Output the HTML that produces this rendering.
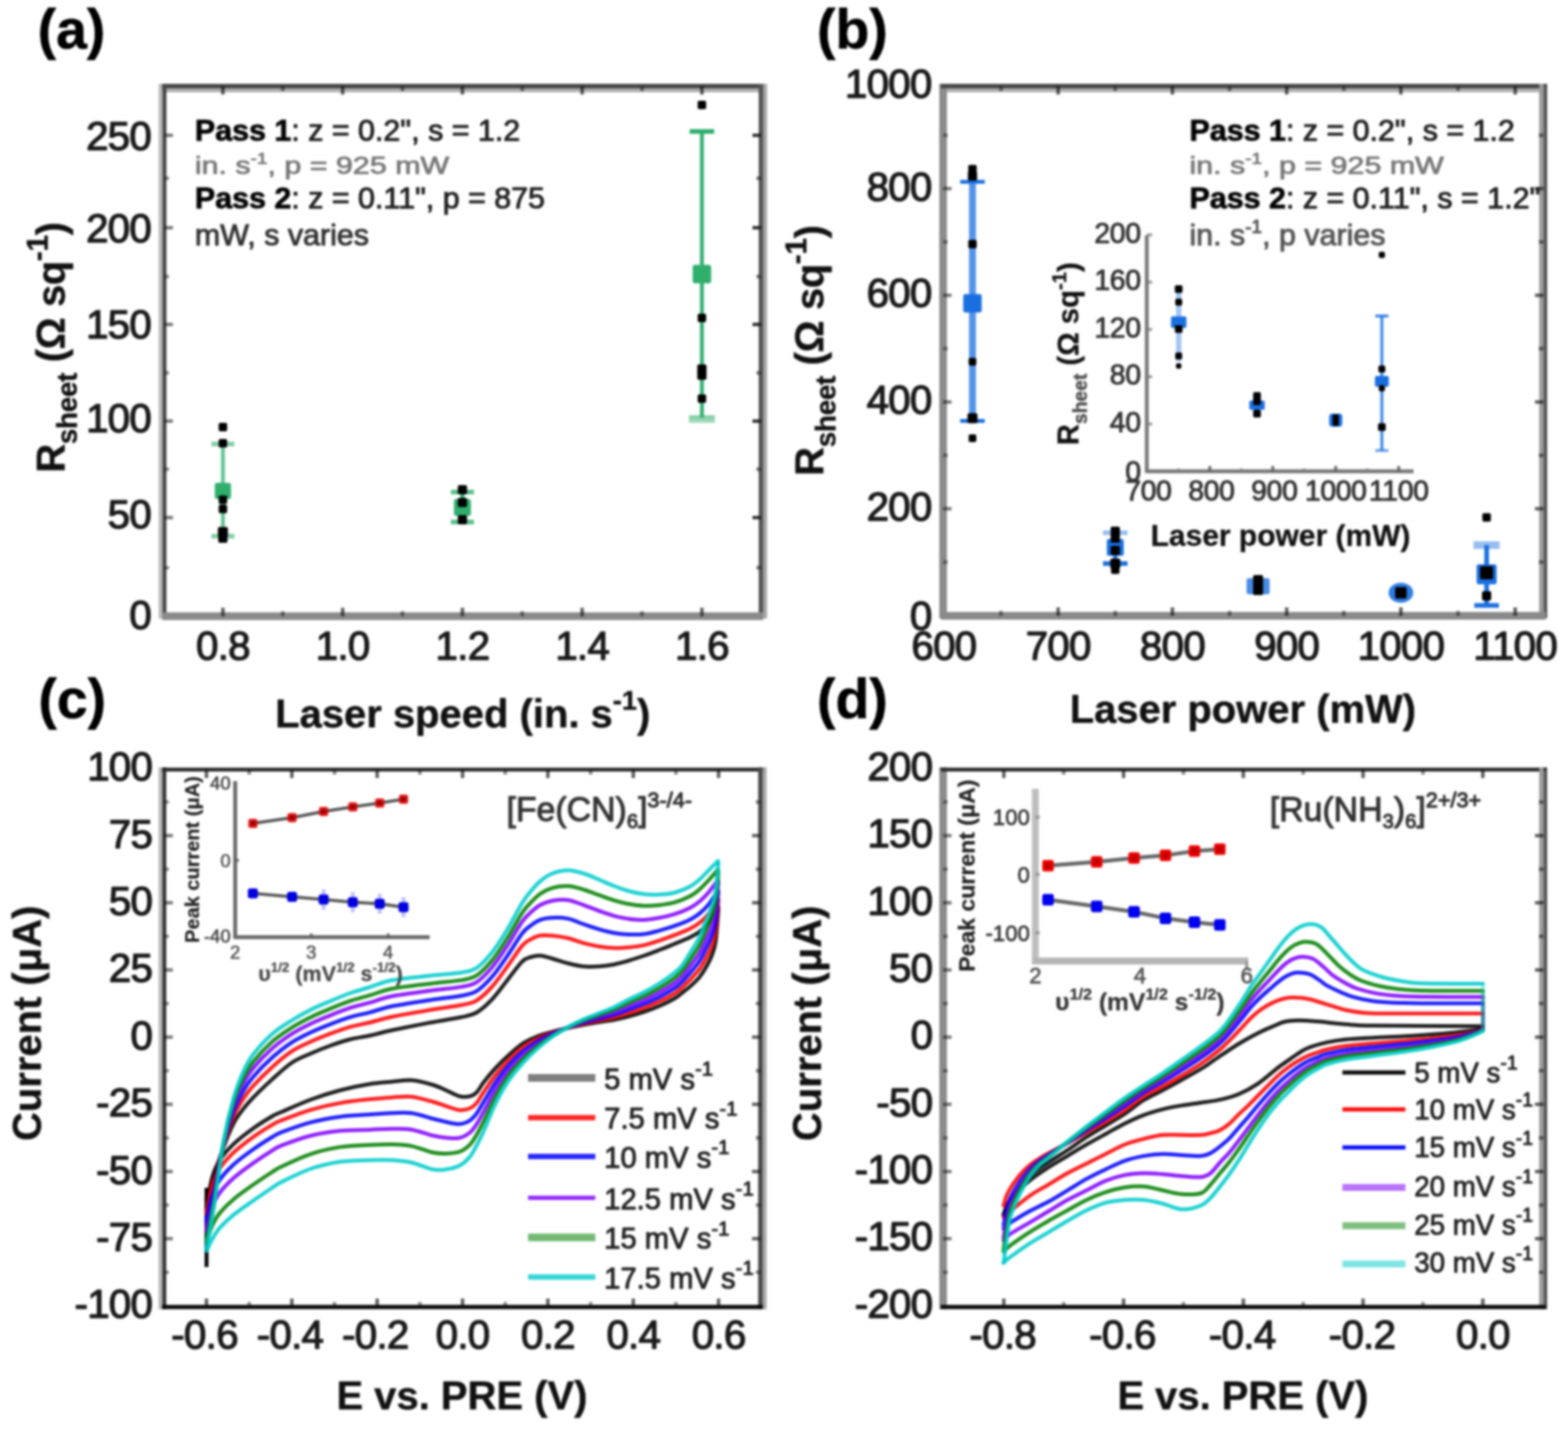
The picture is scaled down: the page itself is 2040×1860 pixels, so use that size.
<!DOCTYPE html>
<html lang="en">
<head>
<meta charset="utf-8">
<title>Figure: sheet resistance and cyclic voltammetry</title>
<style>
html,body{margin:0;padding:0;background:#fff;}
body{width:2040px;height:1860px;overflow:hidden;}
svg{display:block;font-family:'Liberation Sans', Arial, sans-serif;}
#fig{filter:blur(1.6px);}
</style>
</head>
<body>
<svg width="2040" height="1860" viewBox="0 0 2040 1860">
<rect width="2040" height="1860" fill="#fff"/>
<g id="fig">
<text x="49.0" y="63.0" font-size="72" text-anchor="start" fill="#000" font-weight="bold" stroke="#000" stroke-width="0.72" stroke-linejoin="round">(a)</text>
<line x1="290.0" y1="577.5" x2="290.0" y2="697.5" stroke="#2fae6c" stroke-width="5" stroke-linecap="butt" opacity="0.75"/>
<line x1="275.0" y1="577.5" x2="305.0" y2="577.5" stroke="#2fae6c" stroke-width="6" stroke-linecap="butt" opacity="0.6"/>
<line x1="275.0" y1="697.5" x2="305.0" y2="697.5" stroke="#2fae6c" stroke-width="6" stroke-linecap="butt" opacity="0.6"/>
<rect x="279.5" y="628.0" width="21.0" height="21.0" fill="#2fae6c" rx="3"/>
<rect x="284.5" y="550.0" width="11.0" height="11.0" fill="#000" rx="2"/>
<rect x="284.5" y="571.0" width="11.0" height="11.0" fill="#000" rx="2"/>
<rect x="284.5" y="644.5" width="11.0" height="11.0" fill="#000" rx="2"/>
<rect x="284.5" y="656.5" width="11.0" height="11.0" fill="#000" rx="2"/>
<rect x="283.5" y="685.5" width="13.0" height="13.0" fill="#000" rx="2"/>
<rect x="284.0" y="694.0" width="12.0" height="12.0" fill="#000" rx="2"/>
<line x1="601.6" y1="640.0" x2="601.6" y2="679.0" stroke="#2fae6c" stroke-width="5" stroke-linecap="butt" opacity="1"/>
<line x1="586.6" y1="640.0" x2="616.6" y2="640.0" stroke="#2fae6c" stroke-width="6" stroke-linecap="butt" opacity="0.8"/>
<line x1="586.6" y1="679.0" x2="616.6" y2="679.0" stroke="#2fae6c" stroke-width="6" stroke-linecap="butt" opacity="0.8"/>
<rect x="590.6" y="649.0" width="22.0" height="22.0" fill="#2fae6c" rx="3"/>
<rect x="595.6" y="631.0" width="12.0" height="12.0" fill="#000" rx="2"/>
<rect x="595.6" y="647.5" width="12.0" height="12.0" fill="#000" rx="2"/>
<rect x="595.6" y="670.0" width="12.0" height="12.0" fill="#000" rx="2"/>
<line x1="913.2" y1="171.0" x2="913.2" y2="543.0" stroke="#2fae6c" stroke-width="5" stroke-linecap="butt" opacity="1"/>
<line x1="897.2" y1="171.0" x2="929.2" y2="171.0" stroke="#2fae6c" stroke-width="6" stroke-linecap="butt" opacity="1"/>
<line x1="897.2" y1="543.0" x2="929.2" y2="543.0" stroke="#2fae6c" stroke-width="6" stroke-linecap="butt" opacity="0.2"/>
<line x1="896.2" y1="545.0" x2="930.2" y2="545.0" stroke="#2fae6c" stroke-width="10" stroke-linecap="butt" opacity="0.45"/>
<rect x="901.2" y="344.5" width="24.0" height="24.0" fill="#2fae6c" rx="3"/>
<rect x="907.7" y="131.0" width="11.0" height="11.0" fill="#000" rx="2"/>
<rect x="907.7" y="408.0" width="11.0" height="11.0" fill="#000" rx="2"/>
<rect x="907.2" y="474.0" width="12.0" height="12.0" fill="#000" rx="2"/>
<rect x="907.2" y="482.0" width="12.0" height="12.0" fill="#000" rx="2"/>
<rect x="907.7" y="513.0" width="11.0" height="11.0" fill="#000" rx="2"/>
<line x1="209.0" y1="109.0" x2="209.0" y2="804.5" stroke="#b8b8b8" stroke-width="5" stroke-linecap="butt"/>
<line x1="211.0" y1="117.5" x2="993.0" y2="117.5" stroke="#b0b0b0" stroke-width="5" stroke-linecap="butt"/>
<line x1="995.5" y1="109.0" x2="995.5" y2="804.5" stroke="#a8a8a8" stroke-width="5" stroke-linecap="butt"/>
<line x1="214.0" y1="109.0" x2="214.0" y2="804.5" stroke="#444" stroke-width="5" stroke-linecap="butt"/>
<line x1="211.0" y1="112.0" x2="993.0" y2="112.0" stroke="#4a4a4a" stroke-width="6" stroke-linecap="butt"/>
<line x1="990.0" y1="109.0" x2="990.0" y2="804.5" stroke="#585858" stroke-width="6" stroke-linecap="butt"/>
<line x1="211.0" y1="801.5" x2="993.0" y2="801.5" stroke="#8a8a8a" stroke-width="10" stroke-linecap="butt"/>
<line x1="290.0" y1="801.5" x2="290.0" y2="790.5" stroke="#111" stroke-width="4.5" stroke-linecap="butt" opacity="0.68"/>
<line x1="290.0" y1="112.0" x2="290.0" y2="123.0" stroke="#111" stroke-width="4.5" stroke-linecap="butt" opacity="0.68"/>
<line x1="445.8" y1="801.5" x2="445.8" y2="790.5" stroke="#111" stroke-width="4.5" stroke-linecap="butt" opacity="0.68"/>
<line x1="445.8" y1="112.0" x2="445.8" y2="123.0" stroke="#111" stroke-width="4.5" stroke-linecap="butt" opacity="0.68"/>
<line x1="601.6" y1="801.5" x2="601.6" y2="790.5" stroke="#111" stroke-width="4.5" stroke-linecap="butt" opacity="0.68"/>
<line x1="601.6" y1="112.0" x2="601.6" y2="123.0" stroke="#111" stroke-width="4.5" stroke-linecap="butt" opacity="0.68"/>
<line x1="757.4" y1="801.5" x2="757.4" y2="790.5" stroke="#111" stroke-width="4.5" stroke-linecap="butt" opacity="0.68"/>
<line x1="757.4" y1="112.0" x2="757.4" y2="123.0" stroke="#111" stroke-width="4.5" stroke-linecap="butt" opacity="0.68"/>
<line x1="913.2" y1="801.5" x2="913.2" y2="790.5" stroke="#111" stroke-width="4.5" stroke-linecap="butt" opacity="0.68"/>
<line x1="913.2" y1="112.0" x2="913.2" y2="123.0" stroke="#111" stroke-width="4.5" stroke-linecap="butt" opacity="0.68"/>
<line x1="367.9" y1="801.5" x2="367.9" y2="795.0" stroke="#111" stroke-width="4.5" stroke-linecap="butt" opacity="0.5"/>
<line x1="367.9" y1="112.0" x2="367.9" y2="118.5" stroke="#111" stroke-width="4.5" stroke-linecap="butt" opacity="0.5"/>
<line x1="523.7" y1="801.5" x2="523.7" y2="795.0" stroke="#111" stroke-width="4.5" stroke-linecap="butt" opacity="0.5"/>
<line x1="523.7" y1="112.0" x2="523.7" y2="118.5" stroke="#111" stroke-width="4.5" stroke-linecap="butt" opacity="0.5"/>
<line x1="679.5" y1="801.5" x2="679.5" y2="795.0" stroke="#111" stroke-width="4.5" stroke-linecap="butt" opacity="0.5"/>
<line x1="679.5" y1="112.0" x2="679.5" y2="118.5" stroke="#111" stroke-width="4.5" stroke-linecap="butt" opacity="0.5"/>
<line x1="835.3" y1="801.5" x2="835.3" y2="795.0" stroke="#111" stroke-width="4.5" stroke-linecap="butt" opacity="0.5"/>
<line x1="835.3" y1="112.0" x2="835.3" y2="118.5" stroke="#111" stroke-width="4.5" stroke-linecap="butt" opacity="0.5"/>
<line x1="214.0" y1="673.2" x2="225.0" y2="673.2" stroke="#111" stroke-width="4.5" stroke-linecap="butt" opacity="0.55"/>
<line x1="990.0" y1="673.2" x2="979.0" y2="673.2" stroke="#111" stroke-width="4.5" stroke-linecap="butt" opacity="0.85"/>
<line x1="214.0" y1="547.7" x2="225.0" y2="547.7" stroke="#111" stroke-width="4.5" stroke-linecap="butt" opacity="0.55"/>
<line x1="990.0" y1="547.7" x2="979.0" y2="547.7" stroke="#111" stroke-width="4.5" stroke-linecap="butt" opacity="0.85"/>
<line x1="214.0" y1="422.0" x2="225.0" y2="422.0" stroke="#111" stroke-width="4.5" stroke-linecap="butt" opacity="0.55"/>
<line x1="990.0" y1="422.0" x2="979.0" y2="422.0" stroke="#111" stroke-width="4.5" stroke-linecap="butt" opacity="0.85"/>
<line x1="214.0" y1="296.2" x2="225.0" y2="296.2" stroke="#111" stroke-width="4.5" stroke-linecap="butt" opacity="0.55"/>
<line x1="990.0" y1="296.2" x2="979.0" y2="296.2" stroke="#111" stroke-width="4.5" stroke-linecap="butt" opacity="0.85"/>
<line x1="214.0" y1="176.0" x2="225.0" y2="176.0" stroke="#111" stroke-width="4.5" stroke-linecap="butt" opacity="0.55"/>
<line x1="990.0" y1="176.0" x2="979.0" y2="176.0" stroke="#111" stroke-width="4.5" stroke-linecap="butt" opacity="0.85"/>
<line x1="214.0" y1="738.4" x2="220.0" y2="738.4" stroke="#111" stroke-width="4.5" stroke-linecap="butt" opacity="0.45"/>
<line x1="990.0" y1="738.4" x2="984.0" y2="738.4" stroke="#111" stroke-width="4.5" stroke-linecap="butt" opacity="0.54"/>
<line x1="214.0" y1="610.3" x2="220.0" y2="610.3" stroke="#111" stroke-width="4.5" stroke-linecap="butt" opacity="0.45"/>
<line x1="990.0" y1="610.3" x2="984.0" y2="610.3" stroke="#111" stroke-width="4.5" stroke-linecap="butt" opacity="0.54"/>
<line x1="214.0" y1="485.0" x2="220.0" y2="485.0" stroke="#111" stroke-width="4.5" stroke-linecap="butt" opacity="0.45"/>
<line x1="990.0" y1="485.0" x2="984.0" y2="485.0" stroke="#111" stroke-width="4.5" stroke-linecap="butt" opacity="0.54"/>
<line x1="214.0" y1="359.6" x2="220.0" y2="359.6" stroke="#111" stroke-width="4.5" stroke-linecap="butt" opacity="0.45"/>
<line x1="990.0" y1="359.6" x2="984.0" y2="359.6" stroke="#111" stroke-width="4.5" stroke-linecap="butt" opacity="0.54"/>
<line x1="214.0" y1="231.8" x2="220.0" y2="231.8" stroke="#111" stroke-width="4.5" stroke-linecap="butt" opacity="0.45"/>
<line x1="990.0" y1="231.8" x2="984.0" y2="231.8" stroke="#111" stroke-width="4.5" stroke-linecap="butt" opacity="0.54"/>
<text x="290.0" y="858.0" font-size="52.5" text-anchor="middle" fill="#1a1a1a" letter-spacing="-1" stroke="#1a1a1a" stroke-width="1.575" stroke-linejoin="round">0.8</text>
<text x="445.8" y="858.0" font-size="52.5" text-anchor="middle" fill="#1a1a1a" letter-spacing="-1" stroke="#1a1a1a" stroke-width="1.575" stroke-linejoin="round">1.0</text>
<text x="601.6" y="858.0" font-size="52.5" text-anchor="middle" fill="#1a1a1a" letter-spacing="-1" stroke="#1a1a1a" stroke-width="1.575" stroke-linejoin="round">1.2</text>
<text x="757.4" y="858.0" font-size="52.5" text-anchor="middle" fill="#1a1a1a" letter-spacing="-1" stroke="#1a1a1a" stroke-width="1.575" stroke-linejoin="round">1.4</text>
<text x="913.2" y="858.0" font-size="52.5" text-anchor="middle" fill="#1a1a1a" letter-spacing="-1" stroke="#1a1a1a" stroke-width="1.575" stroke-linejoin="round">1.6</text>
<text x="196.5" y="818.3" font-size="52.5" text-anchor="end" fill="#1a1a1a" letter-spacing="-1" stroke="#1a1a1a" stroke-width="1.575" stroke-linejoin="round">0</text>
<text x="196.5" y="687.3" font-size="52.5" text-anchor="end" fill="#1a1a1a" letter-spacing="-1" stroke="#1a1a1a" stroke-width="1.575" stroke-linejoin="round">50</text>
<text x="196.5" y="561.8" font-size="52.5" text-anchor="end" fill="#1a1a1a" letter-spacing="-1" stroke="#1a1a1a" stroke-width="1.575" stroke-linejoin="round">100</text>
<text x="196.5" y="439.8" font-size="52.5" text-anchor="end" fill="#1a1a1a" letter-spacing="-1" stroke="#1a1a1a" stroke-width="1.575" stroke-linejoin="round">150</text>
<text x="196.5" y="314.6" font-size="52.5" text-anchor="end" fill="#1a1a1a" letter-spacing="-1" stroke="#1a1a1a" stroke-width="1.575" stroke-linejoin="round">200</text>
<text x="196.5" y="194.8" font-size="52.5" text-anchor="end" fill="#1a1a1a" letter-spacing="-1" stroke="#1a1a1a" stroke-width="1.575" stroke-linejoin="round">250</text>
<text x="602.0" y="946.0" font-size="52" text-anchor="middle" fill="#111" font-weight="bold" stroke="#111" stroke-width="0.52" stroke-linejoin="round">Laser speed (in. s<tspan dy="-22.9" font-size="35.4">-1</tspan><tspan dy="22.9" font-size="52">)</tspan></text>
<text x="84.0" y="452.0" font-size="52" text-anchor="middle" fill="#111" font-weight="bold" transform="rotate(-90 84.0 452.0)" letter-spacing="-0.5" stroke="#111" stroke-width="0.52" stroke-linejoin="round">R<tspan dy="15.6" font-size="36.4">sheet</tspan><tspan dy="-15.6" font-size="52"> (Ω sq</tspan><tspan dy="-21.8" font-size="39.0">-1</tspan><tspan dy="21.8" font-size="52">)</tspan></text>
<text x="253.5" y="183.0" font-size="39.6" text-anchor="start" fill="#222" stroke="#222" stroke-width="1.1880000000000002" stroke-linejoin="round"><tspan font-weight="bold" fill="#000">Pass 1</tspan>: z = 0.2", s = 1.2</text>
<text x="253.5" y="226.0" font-size="39.6" text-anchor="start" fill="#777" transform="translate(0 226.0) scale(1 0.8) translate(0 -226.0)" stroke="#777" stroke-width="1.1880000000000002" stroke-linejoin="round">in. s<tspan dy="-15.8" font-size="24.6">-1</tspan><tspan dy="15.8" font-size="39.6">, p = 925 mW</tspan></text>
<text x="253.5" y="270.5" font-size="39.6" text-anchor="start" fill="#222" stroke="#222" stroke-width="1.1880000000000002" stroke-linejoin="round"><tspan font-weight="bold" fill="#000">Pass 2</tspan>: z = 0.11", p = 875</text>
<text x="253.5" y="319.0" font-size="39.6" text-anchor="start" fill="#333" stroke="#333" stroke-width="1.1880000000000002" stroke-linejoin="round">mW, s varies</text>
<text x="1063.0" y="63.0" font-size="72" text-anchor="start" fill="#000" font-weight="bold" stroke="#000" stroke-width="0.72" stroke-linejoin="round">(b)</text>
<line x1="1265.2" y1="236.5" x2="1265.2" y2="547.5" stroke="#1a6fe0" stroke-width="9" stroke-linecap="butt" opacity="0.75"/>
<line x1="1249.2" y1="236.5" x2="1281.2" y2="236.5" stroke="#1a6fe0" stroke-width="5" stroke-linecap="butt" opacity="1"/>
<line x1="1249.2" y1="547.5" x2="1281.2" y2="547.5" stroke="#1a6fe0" stroke-width="5" stroke-linecap="butt" opacity="1"/>
<rect x="1253.2" y="382.5" width="24.0" height="24.0" fill="#1a6fe0" rx="3"/>
<rect x="1259.7" y="214.5" width="11.0" height="11.0" fill="#000" rx="2"/>
<rect x="1259.2" y="223.0" width="12.0" height="12.0" fill="#000" rx="2"/>
<rect x="1259.7" y="312.0" width="11.0" height="11.0" fill="#000" rx="2"/>
<rect x="1260.2" y="465.5" width="10.0" height="10.0" fill="#000" rx="2"/>
<rect x="1258.7" y="537.5" width="13.0" height="13.0" fill="#000" rx="2"/>
<rect x="1260.2" y="565.0" width="10.0" height="10.0" fill="#000" rx="2"/>
<line x1="1451.0" y1="693.0" x2="1451.0" y2="733.0" stroke="#1a6fe0" stroke-width="5" stroke-linecap="butt" opacity="1"/>
<line x1="1435.0" y1="693.0" x2="1467.0" y2="693.0" stroke="#1a6fe0" stroke-width="6" stroke-linecap="butt" opacity="0.45"/>
<line x1="1435.0" y1="733.0" x2="1467.0" y2="733.0" stroke="#1a6fe0" stroke-width="6" stroke-linecap="butt" opacity="1"/>
<rect x="1440.0" y="701.0" width="22.0" height="22.0" fill="#1a6fe0" rx="3"/>
<rect x="1445.0" y="685.0" width="12.0" height="12.0" fill="#000" rx="2"/>
<rect x="1445.0" y="694.0" width="12.0" height="12.0" fill="#000" rx="2"/>
<rect x="1445.0" y="710.0" width="12.0" height="12.0" fill="#000" rx="2"/>
<rect x="1444.5" y="726.5" width="13.0" height="13.0" fill="#000" rx="2"/>
<rect x="1445.5" y="735.5" width="11.0" height="11.0" fill="#000" rx="2"/>
<rect x="1621.8" y="752.0" width="30.0" height="21.0" fill="#1a6fe0" opacity="0.8" rx="3"/>
<rect x="1630.3" y="748.0" width="13.0" height="26.0" fill="#000" rx="2"/>
<ellipse cx="1822.6" cy="771" rx="16" ry="13" fill="#1a6fe0" opacity="0.9"/>
<rect x="1815.1" y="763.5" width="15.0" height="15.0" fill="#000" rx="2"/>
<line x1="1934.1" y1="709.0" x2="1934.1" y2="787.5" stroke="#1a6fe0" stroke-width="6" stroke-linecap="butt" opacity="1"/>
<line x1="1918.1" y1="709.0" x2="1950.1" y2="709.0" stroke="#1a6fe0" stroke-width="6" stroke-linecap="butt" opacity="0.0"/>
<line x1="1918.1" y1="787.5" x2="1950.1" y2="787.5" stroke="#1a6fe0" stroke-width="6" stroke-linecap="butt" opacity="1"/>
<line x1="1917.1" y1="709.0" x2="1951.1" y2="709.0" stroke="#1a6fe0" stroke-width="10" stroke-linecap="butt" opacity="0.45"/>
<rect x="1921.1" y="734.0" width="26.0" height="26.0" fill="#1a6fe0" rx="3"/>
<rect x="1928.6" y="667.5" width="11.0" height="11.0" fill="#000" rx="2"/>
<rect x="1925.6" y="736.5" width="17.0" height="17.0" fill="#000" rx="2"/>
<rect x="1928.1" y="769.0" width="12.0" height="12.0" fill="#000" rx="2"/>
<line x1="1492.0" y1="306.0" x2="1492.0" y2="615.0" stroke="#777" stroke-width="5" stroke-linecap="butt"/>
<line x1="1490.0" y1="613.0" x2="1839.0" y2="613.0" stroke="#777" stroke-width="5" stroke-linecap="butt"/>
<line x1="1492.0" y1="551.5" x2="1499.0" y2="551.5" stroke="#777" stroke-width="4" stroke-linecap="butt" opacity="0.7"/>
<line x1="1492.0" y1="490.0" x2="1499.0" y2="490.0" stroke="#777" stroke-width="4" stroke-linecap="butt" opacity="0.7"/>
<line x1="1492.0" y1="428.5" x2="1499.0" y2="428.5" stroke="#777" stroke-width="4" stroke-linecap="butt" opacity="0.7"/>
<line x1="1492.0" y1="367.0" x2="1499.0" y2="367.0" stroke="#777" stroke-width="4" stroke-linecap="butt" opacity="0.7"/>
<line x1="1492.0" y1="305.5" x2="1499.0" y2="305.5" stroke="#777" stroke-width="4" stroke-linecap="butt" opacity="0.7"/>
<line x1="1574.0" y1="613.0" x2="1574.0" y2="606.0" stroke="#555" stroke-width="4" stroke-linecap="butt" opacity="0.8"/>
<line x1="1655.9" y1="613.0" x2="1655.9" y2="606.0" stroke="#555" stroke-width="4" stroke-linecap="butt" opacity="0.8"/>
<line x1="1737.8" y1="613.0" x2="1737.8" y2="606.0" stroke="#555" stroke-width="4" stroke-linecap="butt" opacity="0.8"/>
<line x1="1819.8" y1="613.0" x2="1819.8" y2="606.0" stroke="#555" stroke-width="4" stroke-linecap="butt" opacity="0.8"/>
<line x1="1533.0" y1="613.0" x2="1533.0" y2="609.0" stroke="#777" stroke-width="4" stroke-linecap="butt" opacity="0.5"/>
<line x1="1614.9" y1="613.0" x2="1614.9" y2="609.0" stroke="#777" stroke-width="4" stroke-linecap="butt" opacity="0.5"/>
<line x1="1696.9" y1="613.0" x2="1696.9" y2="609.0" stroke="#777" stroke-width="4" stroke-linecap="butt" opacity="0.5"/>
<line x1="1778.8" y1="613.0" x2="1778.8" y2="609.0" stroke="#777" stroke-width="4" stroke-linecap="butt" opacity="0.5"/>
<text x="1484.0" y="626.2" font-size="37" text-anchor="end" fill="#333" letter-spacing="-0.5" stroke="#333" stroke-width="1.11" stroke-linejoin="round">0</text>
<text x="1484.0" y="561.7" font-size="37" text-anchor="end" fill="#333" letter-spacing="-0.5" stroke="#333" stroke-width="1.11" stroke-linejoin="round">40</text>
<text x="1484.0" y="500.2" font-size="37" text-anchor="end" fill="#333" letter-spacing="-0.5" stroke="#333" stroke-width="1.11" stroke-linejoin="round">80</text>
<text x="1484.0" y="438.7" font-size="37" text-anchor="end" fill="#333" letter-spacing="-0.5" stroke="#333" stroke-width="1.11" stroke-linejoin="round">120</text>
<text x="1484.0" y="377.2" font-size="37" text-anchor="end" fill="#333" letter-spacing="-0.5" stroke="#333" stroke-width="1.11" stroke-linejoin="round">160</text>
<text x="1484.0" y="315.7" font-size="37" text-anchor="end" fill="#333" letter-spacing="-0.5" stroke="#333" stroke-width="1.11" stroke-linejoin="round">200</text>
<text x="1494.0" y="651.0" font-size="37" text-anchor="middle" fill="#333" letter-spacing="-0.5" stroke="#333" stroke-width="1.11" stroke-linejoin="round">700</text>
<text x="1576.0" y="651.0" font-size="37" text-anchor="middle" fill="#333" letter-spacing="-0.5" stroke="#333" stroke-width="1.11" stroke-linejoin="round">800</text>
<text x="1657.9" y="651.0" font-size="37" text-anchor="middle" fill="#333" letter-spacing="-0.5" stroke="#333" stroke-width="1.11" stroke-linejoin="round">900</text>
<text x="1737.8" y="651.0" font-size="37" text-anchor="middle" fill="#333" letter-spacing="-0.5" stroke="#333" stroke-width="1.11" stroke-linejoin="round">1000</text>
<text x="1819.8" y="651.0" font-size="37" text-anchor="middle" fill="#333" letter-spacing="-0.5" stroke="#333" stroke-width="1.11" stroke-linejoin="round">1100</text>
<text x="1666.0" y="710.0" font-size="39" text-anchor="middle" fill="#111" font-weight="bold" stroke="#111" stroke-width="0.39" stroke-linejoin="round">Laser power (mW)</text>
<text x="1403.0" y="460.0" font-size="38" text-anchor="middle" fill="#111" font-weight="bold" transform="rotate(-90 1403.0 460.0)" stroke="#111" stroke-width="0.4" stroke-linejoin="round">R<tspan dy="10.6" font-size="25.1" fill="#555">sheet</tspan><tspan dy="-10.6" font-size="38"> (Ω sq</tspan><tspan dy="-16.0" font-size="26.6">-1</tspan><tspan dy="16.0" font-size="38">)</tspan></text>
<line x1="1533.5" y1="376.0" x2="1533.5" y2="470.0" stroke="#1a6fe0" stroke-width="7" stroke-linecap="butt" opacity="0.4"/>
<rect x="1523.5" y="411.5" width="20.0" height="15.0" fill="#1a6fe0" rx="2"/>
<rect x="1528.5" y="371.0" width="10.0" height="10.0" fill="#000" rx="2"/>
<rect x="1529.0" y="388.5" width="9.0" height="9.0" fill="#000" rx="2"/>
<rect x="1528.5" y="423.0" width="10.0" height="10.0" fill="#000" rx="2"/>
<rect x="1529.0" y="458.5" width="9.0" height="9.0" fill="#000" rx="2"/>
<rect x="1530.0" y="472.5" width="7.0" height="7.0" fill="#000" rx="2"/>
<rect x="1625.4" y="521.0" width="20.0" height="12.0" fill="#1a6fe0" rx="2"/>
<rect x="1630.4" y="510.0" width="10.0" height="10.0" fill="#000" rx="2"/>
<rect x="1630.4" y="517.0" width="10.0" height="10.0" fill="#000" rx="2"/>
<rect x="1630.4" y="533.0" width="10.0" height="10.0" fill="#000" rx="2"/>
<rect x="1729.3" y="538.0" width="17.0" height="17.0" fill="#1a6fe0" rx="4"/>
<rect x="1733.8" y="539.0" width="8.0" height="15.0" fill="#000" rx="2"/>
<line x1="1797.8" y1="411.0" x2="1797.8" y2="586.0" stroke="#1a6fe0" stroke-width="4" stroke-linecap="butt" opacity="0.8"/>
<line x1="1789.3" y1="411.0" x2="1806.3" y2="411.0" stroke="#1a6fe0" stroke-width="4" stroke-linecap="butt" opacity="0.8"/>
<line x1="1789.3" y1="586.0" x2="1806.3" y2="586.0" stroke="#1a6fe0" stroke-width="4" stroke-linecap="butt" opacity="0.6"/>
<rect x="1788.8" y="489.0" width="18.0" height="14.0" fill="#1a6fe0" rx="2"/>
<rect x="1793.8" y="327.5" width="8.0" height="8.0" fill="#000" rx="2"/>
<rect x="1793.3" y="475.5" width="9.0" height="9.0" fill="#000" rx="2"/>
<rect x="1793.8" y="501.0" width="8.0" height="8.0" fill="#000" rx="2"/>
<rect x="1792.8" y="550.5" width="10.0" height="10.0" fill="#000" rx="2"/>
<line x1="1224.0" y1="117.5" x2="2011.0" y2="117.5" stroke="#b0b0b0" stroke-width="5" stroke-linecap="butt"/>
<line x1="2010.5" y1="109.0" x2="2010.5" y2="804.0" stroke="#555" stroke-width="5" stroke-linecap="butt"/>
<line x1="1227.0" y1="109.0" x2="1227.0" y2="804.0" stroke="#8c8c8c" stroke-width="10" stroke-linecap="butt"/>
<line x1="1224.0" y1="112.0" x2="2011.0" y2="112.0" stroke="#4a4a4a" stroke-width="6" stroke-linecap="butt"/>
<line x1="2005.5" y1="109.0" x2="2005.5" y2="804.0" stroke="#9a9a9a" stroke-width="6" stroke-linecap="butt"/>
<line x1="1224.0" y1="801.0" x2="2011.0" y2="801.0" stroke="#8a8a8a" stroke-width="10" stroke-linecap="butt"/>
<line x1="1376.7" y1="801.0" x2="1376.7" y2="790.0" stroke="#111" stroke-width="4.5" stroke-linecap="butt" opacity="0.68"/>
<line x1="1376.7" y1="112.0" x2="1376.7" y2="123.0" stroke="#111" stroke-width="4.5" stroke-linecap="butt" opacity="0.68"/>
<line x1="1525.3" y1="801.0" x2="1525.3" y2="790.0" stroke="#111" stroke-width="4.5" stroke-linecap="butt" opacity="0.68"/>
<line x1="1525.3" y1="112.0" x2="1525.3" y2="123.0" stroke="#111" stroke-width="4.5" stroke-linecap="butt" opacity="0.68"/>
<line x1="1674.0" y1="801.0" x2="1674.0" y2="790.0" stroke="#111" stroke-width="4.5" stroke-linecap="butt" opacity="0.68"/>
<line x1="1674.0" y1="112.0" x2="1674.0" y2="123.0" stroke="#111" stroke-width="4.5" stroke-linecap="butt" opacity="0.68"/>
<line x1="1822.6" y1="801.0" x2="1822.6" y2="790.0" stroke="#111" stroke-width="4.5" stroke-linecap="butt" opacity="0.68"/>
<line x1="1822.6" y1="112.0" x2="1822.6" y2="123.0" stroke="#111" stroke-width="4.5" stroke-linecap="butt" opacity="0.68"/>
<line x1="1971.3" y1="801.0" x2="1971.3" y2="790.0" stroke="#111" stroke-width="4.5" stroke-linecap="butt" opacity="0.68"/>
<line x1="1971.3" y1="112.0" x2="1971.3" y2="123.0" stroke="#111" stroke-width="4.5" stroke-linecap="butt" opacity="0.68"/>
<line x1="1302.3" y1="801.0" x2="1302.3" y2="794.5" stroke="#111" stroke-width="4.5" stroke-linecap="butt" opacity="0.5"/>
<line x1="1302.3" y1="112.0" x2="1302.3" y2="118.5" stroke="#111" stroke-width="4.5" stroke-linecap="butt" opacity="0.5"/>
<line x1="1451.0" y1="801.0" x2="1451.0" y2="794.5" stroke="#111" stroke-width="4.5" stroke-linecap="butt" opacity="0.5"/>
<line x1="1451.0" y1="112.0" x2="1451.0" y2="118.5" stroke="#111" stroke-width="4.5" stroke-linecap="butt" opacity="0.5"/>
<line x1="1599.7" y1="801.0" x2="1599.7" y2="794.5" stroke="#111" stroke-width="4.5" stroke-linecap="butt" opacity="0.5"/>
<line x1="1599.7" y1="112.0" x2="1599.7" y2="118.5" stroke="#111" stroke-width="4.5" stroke-linecap="butt" opacity="0.5"/>
<line x1="1748.3" y1="801.0" x2="1748.3" y2="794.5" stroke="#111" stroke-width="4.5" stroke-linecap="butt" opacity="0.5"/>
<line x1="1748.3" y1="112.0" x2="1748.3" y2="118.5" stroke="#111" stroke-width="4.5" stroke-linecap="butt" opacity="0.5"/>
<line x1="1897.0" y1="801.0" x2="1897.0" y2="794.5" stroke="#111" stroke-width="4.5" stroke-linecap="butt" opacity="0.5"/>
<line x1="1897.0" y1="112.0" x2="1897.0" y2="118.5" stroke="#111" stroke-width="4.5" stroke-linecap="butt" opacity="0.5"/>
<line x1="1227.0" y1="661.7" x2="1238.0" y2="661.7" stroke="#111" stroke-width="4.5" stroke-linecap="butt" opacity="0.55"/>
<line x1="2008.0" y1="661.7" x2="1997.0" y2="661.7" stroke="#111" stroke-width="4.5" stroke-linecap="butt" opacity="0.66"/>
<line x1="1227.0" y1="522.9" x2="1238.0" y2="522.9" stroke="#111" stroke-width="4.5" stroke-linecap="butt" opacity="0.55"/>
<line x1="2008.0" y1="522.9" x2="1997.0" y2="522.9" stroke="#111" stroke-width="4.5" stroke-linecap="butt" opacity="0.66"/>
<line x1="1227.0" y1="384.1" x2="1238.0" y2="384.1" stroke="#111" stroke-width="4.5" stroke-linecap="butt" opacity="0.55"/>
<line x1="2008.0" y1="384.1" x2="1997.0" y2="384.1" stroke="#111" stroke-width="4.5" stroke-linecap="butt" opacity="0.66"/>
<line x1="1227.0" y1="245.3" x2="1238.0" y2="245.3" stroke="#111" stroke-width="4.5" stroke-linecap="butt" opacity="0.55"/>
<line x1="2008.0" y1="245.3" x2="1997.0" y2="245.3" stroke="#111" stroke-width="4.5" stroke-linecap="butt" opacity="0.66"/>
<line x1="1227.0" y1="731.1" x2="1233.0" y2="731.1" stroke="#111" stroke-width="4.5" stroke-linecap="butt" opacity="0.45"/>
<line x1="2008.0" y1="731.1" x2="2002.0" y2="731.1" stroke="#111" stroke-width="4.5" stroke-linecap="butt" opacity="0.54"/>
<line x1="1227.0" y1="592.3" x2="1233.0" y2="592.3" stroke="#111" stroke-width="4.5" stroke-linecap="butt" opacity="0.45"/>
<line x1="2008.0" y1="592.3" x2="2002.0" y2="592.3" stroke="#111" stroke-width="4.5" stroke-linecap="butt" opacity="0.54"/>
<line x1="1227.0" y1="453.5" x2="1233.0" y2="453.5" stroke="#111" stroke-width="4.5" stroke-linecap="butt" opacity="0.45"/>
<line x1="2008.0" y1="453.5" x2="2002.0" y2="453.5" stroke="#111" stroke-width="4.5" stroke-linecap="butt" opacity="0.54"/>
<line x1="1227.0" y1="314.7" x2="1233.0" y2="314.7" stroke="#111" stroke-width="4.5" stroke-linecap="butt" opacity="0.45"/>
<line x1="2008.0" y1="314.7" x2="2002.0" y2="314.7" stroke="#111" stroke-width="4.5" stroke-linecap="butt" opacity="0.54"/>
<line x1="1227.0" y1="175.9" x2="1233.0" y2="175.9" stroke="#111" stroke-width="4.5" stroke-linecap="butt" opacity="0.45"/>
<line x1="2008.0" y1="175.9" x2="2002.0" y2="175.9" stroke="#111" stroke-width="4.5" stroke-linecap="butt" opacity="0.54"/>
<text x="1228.0" y="858.0" font-size="52.5" text-anchor="middle" fill="#1a1a1a" letter-spacing="-1" stroke="#1a1a1a" stroke-width="1.575" stroke-linejoin="round">600</text>
<text x="1376.7" y="858.0" font-size="52.5" text-anchor="middle" fill="#1a1a1a" letter-spacing="-1" stroke="#1a1a1a" stroke-width="1.575" stroke-linejoin="round">700</text>
<text x="1525.3" y="858.0" font-size="52.5" text-anchor="middle" fill="#1a1a1a" letter-spacing="-1" stroke="#1a1a1a" stroke-width="1.575" stroke-linejoin="round">800</text>
<text x="1674.0" y="858.0" font-size="52.5" text-anchor="middle" fill="#1a1a1a" letter-spacing="-1" stroke="#1a1a1a" stroke-width="1.575" stroke-linejoin="round">900</text>
<text x="1822.6" y="858.0" font-size="52.5" text-anchor="middle" fill="#1a1a1a" letter-spacing="-1" stroke="#1a1a1a" stroke-width="1.575" stroke-linejoin="round">1000</text>
<text x="1971.3" y="858.0" font-size="52.5" text-anchor="middle" fill="#1a1a1a" letter-spacing="-1" stroke="#1a1a1a" stroke-width="1.575" stroke-linejoin="round">1100</text>
<text x="1212.0" y="677.0" font-size="52.5" text-anchor="end" fill="#1a1a1a" letter-spacing="-1" stroke="#1a1a1a" stroke-width="1.575" stroke-linejoin="round">200</text>
<text x="1212.0" y="538.2" font-size="52.5" text-anchor="end" fill="#1a1a1a" letter-spacing="-1" stroke="#1a1a1a" stroke-width="1.575" stroke-linejoin="round">400</text>
<text x="1212.0" y="399.4" font-size="52.5" text-anchor="end" fill="#1a1a1a" letter-spacing="-1" stroke="#1a1a1a" stroke-width="1.575" stroke-linejoin="round">600</text>
<text x="1212.0" y="260.6" font-size="52.5" text-anchor="end" fill="#1a1a1a" letter-spacing="-1" stroke="#1a1a1a" stroke-width="1.575" stroke-linejoin="round">800</text>
<text x="1212.0" y="126.8" font-size="52.5" text-anchor="end" fill="#1a1a1a" letter-spacing="-1" stroke="#1a1a1a" stroke-width="1.575" stroke-linejoin="round">1000</text>
<text x="1212.0" y="819.3" font-size="52.5" text-anchor="end" fill="#1a1a1a" letter-spacing="-1" stroke="#1a1a1a" stroke-width="1.575" stroke-linejoin="round">0</text>
<text x="1617.0" y="940.0" font-size="52" text-anchor="middle" fill="#111" font-weight="bold" stroke="#111" stroke-width="0.52" stroke-linejoin="round">Laser power (mW)</text>
<text x="1071.0" y="456.0" font-size="52" text-anchor="middle" fill="#111" font-weight="bold" transform="rotate(-90 1071.0 456.0)" letter-spacing="-0.5" stroke="#111" stroke-width="0.52" stroke-linejoin="round">R<tspan dy="15.6" font-size="36.4">sheet</tspan><tspan dy="-15.6" font-size="52"> (Ω sq</tspan><tspan dy="-21.8" font-size="39.0">-1</tspan><tspan dy="21.8" font-size="52">)</tspan></text>
<text x="1547.5" y="183.0" font-size="39.6" text-anchor="start" fill="#222" stroke="#222" stroke-width="1.1880000000000002" stroke-linejoin="round"><tspan font-weight="bold" fill="#000">Pass 1</tspan>: z = 0.2", s = 1.2</text>
<text x="1547.5" y="226.0" font-size="39.6" text-anchor="start" fill="#777" transform="translate(0 226.0) scale(1 0.8) translate(0 -226.0)" stroke="#777" stroke-width="1.1880000000000002" stroke-linejoin="round">in. s<tspan dy="-15.8" font-size="24.6">-1</tspan><tspan dy="15.8" font-size="39.6">, p = 925 mW</tspan></text>
<text x="1547.5" y="271.0" font-size="39.6" text-anchor="start" fill="#222" stroke="#222" stroke-width="1.1880000000000002" stroke-linejoin="round"><tspan font-weight="bold" fill="#000">Pass 2</tspan>: z = 0.11", s = 1.2"</text>
<text x="1547.5" y="319.0" font-size="39.6" text-anchor="start" fill="#555" stroke="#555" stroke-width="1.1880000000000002" stroke-linejoin="round">in. s<tspan dy="-15.8" font-size="24.6">-1</tspan><tspan dy="15.8" font-size="39.6">, p varies</tspan></text>
<text x="50.0" y="934.0" font-size="72" text-anchor="start" fill="#000" font-weight="bold" stroke="#000" stroke-width="0.72" stroke-linejoin="round">(c)</text>
<line x1="268.7" y1="1545.0" x2="268.7" y2="1648.0" stroke="#000" stroke-width="5" stroke-linecap="butt"/>
<path d="M268.7,1572.0 C269.9,1565.3 273.1,1542.5 276.0,1532.0 C278.9,1521.5 281.3,1516.3 286.0,1509.0 C290.7,1501.7 296.8,1494.8 304.0,1488.0 C311.2,1481.2 320.7,1474.0 329.0,1468.0 C337.3,1462.0 347.7,1455.7 354.0,1452.0 C360.3,1448.3 358.5,1449.7 367.0,1446.0 C375.5,1442.3 392.3,1434.7 405.0,1430.0 C417.7,1425.3 430.3,1421.3 443.0,1418.0 C455.7,1414.7 469.8,1411.8 481.0,1410.0 C492.2,1408.2 501.0,1407.8 510.0,1407.0 C519.0,1406.2 526.2,1404.3 535.0,1405.0 C543.8,1405.7 555.5,1408.8 563.0,1411.0 C570.5,1413.2 574.2,1415.5 580.0,1418.0 C585.8,1420.5 592.8,1424.7 598.0,1426.0 C603.2,1427.3 607.3,1426.8 611.0,1426.0 C614.7,1425.2 617.0,1424.0 620.0,1421.0 C623.0,1418.0 625.0,1413.2 629.0,1408.0 C633.0,1402.8 638.8,1395.7 644.0,1390.0 C649.2,1384.3 654.2,1379.3 660.0,1374.0 C665.8,1368.7 672.5,1362.3 679.0,1358.0 C685.5,1353.7 692.3,1350.7 699.0,1348.0 C705.7,1345.3 712.3,1343.8 719.0,1342.0 C725.7,1340.2 732.3,1338.5 739.0,1337.0 C745.7,1335.5 752.3,1334.2 759.0,1333.0 C765.7,1331.8 772.3,1330.6 779.0,1329.5 C785.7,1328.4 792.5,1327.8 799.0,1326.5 C805.5,1325.2 811.5,1323.8 818.0,1322.0 C824.5,1320.2 831.3,1318.2 838.0,1316.0 C844.7,1313.8 851.3,1311.4 858.0,1308.5 C864.7,1305.6 873.0,1301.4 878.0,1298.5 C883.0,1295.6 884.7,1293.6 888.0,1291.0 C891.3,1288.4 894.3,1286.3 898.0,1283.0 C901.7,1279.7 906.7,1275.0 910.0,1271.0 C913.3,1267.0 915.3,1263.7 918.0,1259.0 C920.7,1254.3 923.8,1248.7 926.0,1243.0 C928.2,1237.3 929.6,1234.7 931.0,1225.0 C932.4,1215.3 933.9,1191.7 934.5,1185.0" fill="none" stroke="#000000" stroke-width="5" stroke-linejoin="round" stroke-linecap="round" opacity="0.88"/>
<path d="M268.7,1560.0 C270.2,1555.0 274.3,1541.3 278.0,1530.0 C281.7,1518.7 286.7,1503.5 291.0,1492.0 C295.3,1480.5 299.8,1469.2 304.0,1461.0 C308.2,1452.8 311.8,1448.5 316.0,1443.0 C320.2,1437.5 322.7,1434.5 329.0,1428.0 C335.3,1421.5 345.5,1411.7 354.0,1404.0 C362.5,1396.3 371.5,1387.7 380.0,1382.0 C388.5,1376.3 396.7,1373.7 405.0,1370.0 C413.3,1366.3 421.7,1363.0 430.0,1360.0 C438.3,1357.0 446.5,1354.2 455.0,1352.0 C463.5,1349.8 471.8,1349.0 481.0,1347.0 C490.2,1345.0 496.8,1342.8 510.0,1340.0 C523.2,1337.2 545.0,1332.8 560.0,1330.0 C575.0,1327.2 590.0,1325.2 600.0,1323.0 C610.0,1320.8 613.3,1320.8 620.0,1317.0 C626.7,1313.2 633.3,1307.0 640.0,1300.0 C646.7,1293.0 653.5,1283.2 660.0,1275.0 C666.5,1266.8 674.0,1256.0 679.0,1251.0 C684.0,1246.0 686.0,1246.3 690.0,1245.0 C694.0,1243.7 698.2,1242.7 703.0,1243.0 C707.8,1243.3 713.0,1245.3 719.0,1247.0 C725.0,1248.7 732.3,1251.3 739.0,1253.0 C745.7,1254.7 752.3,1256.3 759.0,1257.0 C765.7,1257.7 772.3,1257.4 779.0,1257.0 C785.7,1256.6 792.5,1255.8 799.0,1254.5 C805.5,1253.2 811.5,1251.4 818.0,1249.5 C824.5,1247.6 831.3,1245.3 838.0,1243.0 C844.7,1240.7 851.3,1238.1 858.0,1235.5 C864.7,1232.9 871.3,1230.2 878.0,1227.5 C884.7,1224.8 892.7,1221.6 898.0,1219.0 C903.3,1216.4 906.0,1215.2 910.0,1212.0 C914.0,1208.8 918.0,1205.5 922.0,1200.0 C926.0,1194.5 932.0,1182.5 934.0,1179.0" fill="none" stroke="#000000" stroke-width="5" stroke-linejoin="round" stroke-linecap="round" opacity="0.88"/>
<line x1="934.5" y1="1179.0" x2="934.5" y2="1185.0" stroke="#000000" stroke-width="5" stroke-linecap="butt" opacity="0.88"/>
<path d="M268.7,1578.6 C269.9,1572.4 273.1,1551.4 276.0,1541.6 C278.9,1531.8 281.3,1526.7 286.0,1519.6 C290.7,1512.5 296.8,1505.8 304.0,1499.0 C311.2,1492.3 320.7,1485.3 329.0,1479.3 C337.3,1473.3 347.7,1466.9 354.0,1463.2 C360.3,1459.4 358.5,1460.2 367.0,1456.9 C375.5,1453.6 392.3,1447.0 405.0,1443.3 C417.7,1439.6 430.3,1436.8 443.0,1434.6 C455.7,1432.3 469.8,1431.0 481.0,1429.8 C492.2,1428.6 501.0,1428.0 510.0,1427.4 C519.0,1426.8 526.2,1425.5 535.0,1426.4 C543.8,1427.3 555.5,1431.0 563.0,1433.0 C570.5,1435.0 574.2,1436.8 580.0,1438.6 C585.8,1440.4 592.8,1443.5 598.0,1444.0 C603.2,1444.5 607.3,1443.3 611.0,1441.8 C614.7,1440.3 617.0,1438.3 620.0,1434.8 C623.0,1431.3 625.0,1426.7 629.0,1420.8 C633.0,1414.9 638.8,1406.1 644.0,1399.4 C649.2,1392.7 654.2,1386.8 660.0,1380.8 C665.8,1374.8 672.5,1368.1 679.0,1363.2 C685.5,1358.3 692.3,1354.5 699.0,1351.2 C705.7,1347.9 712.3,1345.6 719.0,1343.2 C725.7,1340.8 732.3,1338.7 739.0,1336.8 C745.7,1334.9 752.3,1333.2 759.0,1331.6 C765.7,1330.0 772.3,1328.6 779.0,1327.2 C785.7,1325.8 792.5,1324.8 799.0,1323.2 C805.5,1321.6 811.5,1319.6 818.0,1317.6 C824.5,1315.5 831.3,1313.4 838.0,1310.9 C844.7,1308.4 851.3,1305.8 858.0,1302.6 C864.7,1299.4 873.0,1294.9 878.0,1291.8 C883.0,1288.7 884.7,1286.7 888.0,1283.8 C891.3,1280.9 894.3,1278.1 898.0,1274.2 C901.7,1270.3 906.7,1265.1 910.0,1260.6 C913.3,1256.1 915.3,1252.1 918.0,1247.0 C920.7,1241.9 923.8,1236.0 926.0,1230.2 C928.2,1224.4 929.6,1221.5 931.0,1212.0 C932.4,1202.5 933.9,1179.5 934.5,1173.0" fill="none" stroke="#ff0000" stroke-width="5" stroke-linejoin="round" stroke-linecap="round" opacity="0.88"/>
<path d="M268.7,1577.0 C270.2,1571.1 274.3,1555.9 278.0,1541.3 C281.7,1526.8 286.7,1504.7 291.0,1489.8 C295.3,1475.0 299.8,1462.1 304.0,1452.1 C308.2,1442.1 311.8,1436.6 316.0,1430.0 C320.2,1423.5 322.7,1419.9 329.0,1412.9 C335.3,1405.9 345.5,1395.7 354.0,1388.1 C362.5,1380.4 371.5,1372.7 380.0,1367.2 C388.5,1361.6 396.7,1358.4 405.0,1354.6 C413.3,1350.8 421.7,1347.5 430.0,1344.3 C438.3,1341.2 446.5,1338.2 455.0,1335.8 C463.5,1333.4 471.8,1332.2 481.0,1330.0 C490.2,1327.8 496.8,1325.2 510.0,1322.5 C523.2,1319.7 545.0,1316.0 560.0,1313.5 C575.0,1311.0 590.0,1309.4 600.0,1307.3 C610.0,1305.3 613.3,1305.3 620.0,1301.3 C626.7,1297.4 633.3,1290.9 640.0,1283.5 C646.7,1276.2 653.5,1266.0 660.0,1257.2 C666.5,1248.3 674.0,1236.3 679.0,1230.5 C684.0,1224.6 686.0,1224.3 690.0,1222.0 C694.0,1219.8 698.2,1217.6 703.0,1216.8 C707.8,1216.0 713.0,1216.4 719.0,1217.0 C725.0,1217.6 732.3,1218.7 739.0,1220.3 C745.7,1221.9 752.3,1224.9 759.0,1226.7 C765.7,1228.5 772.3,1229.9 779.0,1231.0 C785.7,1232.1 792.5,1232.9 799.0,1233.1 C805.5,1233.3 811.5,1232.9 818.0,1232.3 C824.5,1231.7 831.3,1230.9 838.0,1229.4 C844.7,1227.9 851.3,1225.5 858.0,1223.3 C864.7,1221.1 871.3,1218.8 878.0,1216.2 C884.7,1213.6 892.7,1210.4 898.0,1207.8 C903.3,1205.2 906.0,1203.7 910.0,1200.4 C914.0,1197.2 918.0,1193.7 922.0,1188.4 C926.0,1183.2 932.0,1172.2 934.0,1169.0" fill="none" stroke="#ff0000" stroke-width="5" stroke-linejoin="round" stroke-linecap="round" opacity="0.88"/>
<line x1="934.5" y1="1169.0" x2="934.5" y2="1173.0" stroke="#ff0000" stroke-width="5" stroke-linecap="butt" opacity="0.88"/>
<path d="M268.7,1588.0 C269.9,1582.5 273.1,1564.1 276.0,1555.2 C278.9,1546.3 281.3,1541.3 286.0,1534.5 C290.7,1527.8 296.8,1521.2 304.0,1514.7 C311.2,1508.1 320.7,1501.2 329.0,1495.3 C337.3,1489.3 347.7,1482.8 354.0,1479.0 C360.3,1475.2 358.5,1475.6 367.0,1472.4 C375.5,1469.2 392.3,1462.9 405.0,1459.6 C417.7,1456.2 430.3,1454.1 443.0,1452.4 C455.7,1450.8 469.8,1450.4 481.0,1449.6 C492.2,1448.8 501.0,1448.1 510.0,1447.8 C519.0,1447.5 526.2,1446.6 535.0,1447.8 C543.8,1449.0 555.5,1453.1 563.0,1455.0 C570.5,1456.9 574.2,1458.0 580.0,1459.2 C585.8,1460.4 592.8,1462.3 598.0,1462.0 C603.2,1461.7 607.3,1459.8 611.0,1457.6 C614.7,1455.4 617.0,1452.6 620.0,1448.6 C623.0,1444.6 625.0,1440.2 629.0,1433.6 C633.0,1427.0 638.8,1416.5 644.0,1408.8 C649.2,1401.1 654.2,1394.3 660.0,1387.6 C665.8,1380.9 672.5,1373.9 679.0,1368.4 C685.5,1362.9 692.3,1358.4 699.0,1354.4 C705.7,1350.4 712.3,1347.4 719.0,1344.4 C725.7,1341.4 732.3,1339.0 739.0,1336.6 C745.7,1334.2 752.3,1332.2 759.0,1330.2 C765.7,1328.2 772.3,1326.6 779.0,1324.9 C785.7,1323.2 792.5,1321.9 799.0,1319.9 C805.5,1318.0 811.5,1315.6 818.0,1313.2 C824.5,1310.8 831.3,1308.5 838.0,1305.8 C844.7,1303.0 851.3,1300.2 858.0,1296.7 C864.7,1293.2 873.0,1288.4 878.0,1285.1 C883.0,1281.8 884.7,1279.9 888.0,1276.6 C891.3,1273.3 894.3,1269.8 898.0,1265.4 C901.7,1261.0 906.7,1255.3 910.0,1250.2 C913.3,1245.1 915.3,1240.5 918.0,1235.0 C920.7,1229.5 923.8,1223.4 926.0,1217.4 C928.2,1211.4 929.6,1208.4 931.0,1199.0 C932.4,1189.6 933.9,1167.3 934.5,1161.0" fill="none" stroke="#0000ff" stroke-width="5" stroke-linejoin="round" stroke-linecap="round" opacity="0.88"/>
<path d="M268.7,1590.2 C270.2,1583.6 274.3,1567.2 278.0,1550.2 C281.7,1533.1 286.7,1505.7 291.0,1488.2 C295.3,1470.7 299.8,1456.5 304.0,1445.2 C308.2,1433.8 311.8,1427.3 316.0,1420.0 C320.2,1412.6 322.7,1408.5 329.0,1401.1 C335.3,1393.7 345.5,1383.3 354.0,1375.7 C362.5,1368.1 371.5,1361.1 380.0,1355.6 C388.5,1350.1 396.7,1346.5 405.0,1342.6 C413.3,1338.7 421.7,1335.4 430.0,1332.2 C438.3,1328.9 446.5,1325.8 455.0,1323.2 C463.5,1320.6 471.8,1319.2 481.0,1316.8 C490.2,1314.4 496.8,1311.5 510.0,1308.8 C523.2,1306.1 545.0,1303.0 560.0,1300.7 C575.0,1298.4 590.0,1297.1 600.0,1295.2 C610.0,1293.2 613.3,1293.2 620.0,1289.2 C626.7,1285.1 633.3,1278.4 640.0,1270.7 C646.7,1263.1 653.5,1252.7 660.0,1243.3 C666.5,1234.0 674.0,1221.0 679.0,1214.5 C684.0,1208.0 686.0,1207.2 690.0,1204.2 C694.0,1201.2 698.2,1198.2 703.0,1196.4 C707.8,1194.7 713.0,1194.0 719.0,1193.7 C725.0,1193.5 732.3,1193.5 739.0,1194.9 C745.7,1196.3 752.3,1199.7 759.0,1202.0 C765.7,1204.3 772.3,1206.7 779.0,1208.6 C785.7,1210.5 792.5,1212.4 799.0,1213.5 C805.5,1214.7 811.5,1215.2 818.0,1215.4 C824.5,1215.7 831.3,1215.9 838.0,1215.0 C844.7,1214.1 851.3,1212.1 858.0,1210.3 C864.7,1208.5 871.3,1206.6 878.0,1204.2 C884.7,1201.8 892.7,1198.6 898.0,1195.9 C903.3,1193.2 906.0,1191.5 910.0,1188.2 C914.0,1184.9 918.0,1181.2 922.0,1176.2 C926.0,1171.2 932.0,1161.3 934.0,1158.3" fill="none" stroke="#0000ff" stroke-width="5" stroke-linejoin="round" stroke-linecap="round" opacity="0.88"/>
<line x1="934.5" y1="1158.3" x2="934.5" y2="1161.0" stroke="#0000ff" stroke-width="5" stroke-linecap="butt" opacity="0.88"/>
<path d="M268.7,1598.4 C269.9,1593.7 273.1,1578.3 276.0,1570.4 C278.9,1562.5 281.3,1557.6 286.0,1551.2 C290.7,1544.9 296.8,1538.5 304.0,1532.2 C311.2,1525.8 320.7,1519.0 329.0,1513.1 C337.3,1507.2 347.7,1500.5 354.0,1496.6 C360.3,1492.7 358.5,1493.0 367.0,1489.7 C375.5,1486.4 392.3,1480.1 405.0,1477.0 C417.7,1473.8 430.3,1472.1 443.0,1470.8 C455.7,1469.5 469.8,1469.8 481.0,1469.4 C492.2,1469.0 501.0,1468.2 510.0,1468.2 C519.0,1468.2 526.2,1467.7 535.0,1469.2 C543.8,1470.7 555.5,1475.2 563.0,1477.0 C570.5,1478.8 574.2,1479.3 580.0,1479.8 C585.8,1480.3 592.8,1481.1 598.0,1480.0 C603.2,1478.9 607.3,1476.3 611.0,1473.4 C614.7,1470.5 617.0,1466.9 620.0,1462.4 C623.0,1457.9 625.0,1453.8 629.0,1446.4 C633.0,1439.0 638.8,1426.9 644.0,1418.2 C649.2,1409.5 654.2,1401.8 660.0,1394.4 C665.8,1387.0 672.5,1379.7 679.0,1373.6 C685.5,1367.5 692.3,1362.3 699.0,1357.6 C705.7,1352.9 712.3,1349.1 719.0,1345.6 C725.7,1342.1 732.3,1339.2 739.0,1336.4 C745.7,1333.6 752.3,1331.1 759.0,1328.8 C765.7,1326.5 772.3,1324.6 779.0,1322.6 C785.7,1320.6 792.5,1318.9 799.0,1316.6 C805.5,1314.3 811.5,1311.4 818.0,1308.8 C824.5,1306.2 831.3,1303.7 838.0,1300.7 C844.7,1297.7 851.3,1294.5 858.0,1290.8 C864.7,1287.1 873.0,1282.0 878.0,1278.4 C883.0,1274.8 884.7,1273.0 888.0,1269.4 C891.3,1265.8 894.3,1261.5 898.0,1256.6 C901.7,1251.7 906.7,1245.4 910.0,1239.8 C913.3,1234.2 915.3,1228.9 918.0,1223.0 C920.7,1217.1 923.8,1210.8 926.0,1204.6 C928.2,1198.4 929.6,1195.3 931.0,1186.0 C932.4,1176.7 933.9,1155.2 934.5,1149.0" fill="none" stroke="#8000ff" stroke-width="5" stroke-linejoin="round" stroke-linecap="round" opacity="0.88"/>
<path d="M268.7,1602.8 C270.2,1595.5 274.3,1577.9 278.0,1558.6 C281.7,1539.2 286.7,1506.6 291.0,1486.6 C295.3,1466.6 299.8,1451.3 304.0,1438.6 C308.2,1425.9 311.8,1418.5 316.0,1410.4 C320.2,1402.3 322.7,1397.7 329.0,1389.9 C335.3,1382.2 345.5,1371.4 354.0,1363.9 C362.5,1356.3 371.5,1350.0 380.0,1344.6 C388.5,1339.2 396.7,1335.2 405.0,1331.2 C413.3,1327.2 421.7,1323.9 430.0,1320.6 C438.3,1317.2 446.5,1313.9 455.0,1311.2 C463.5,1308.5 471.8,1306.7 481.0,1304.2 C490.2,1301.6 496.8,1298.4 510.0,1295.8 C523.2,1293.2 545.0,1290.6 560.0,1288.5 C575.0,1286.5 590.0,1285.4 600.0,1283.6 C610.0,1281.7 613.3,1281.7 620.0,1277.6 C626.7,1273.4 633.3,1266.4 640.0,1258.5 C646.7,1250.6 653.5,1240.0 660.0,1230.1 C666.5,1220.3 674.0,1206.5 679.0,1199.3 C684.0,1192.2 686.0,1190.9 690.0,1187.2 C694.0,1183.5 698.2,1179.7 703.0,1177.0 C707.8,1174.4 713.0,1172.6 719.0,1171.5 C725.0,1170.5 732.3,1169.8 739.0,1170.7 C745.7,1171.6 752.3,1174.7 759.0,1177.1 C765.7,1179.4 772.3,1182.3 779.0,1184.7 C785.7,1187.0 792.5,1189.5 799.0,1191.3 C805.5,1193.0 811.5,1194.3 818.0,1195.2 C824.5,1196.0 831.3,1196.8 838.0,1196.6 C844.7,1196.4 851.3,1195.0 858.0,1193.7 C864.7,1192.5 871.3,1191.1 878.0,1188.9 C884.7,1186.8 892.7,1183.4 898.0,1180.7 C903.3,1178.0 906.0,1175.9 910.0,1172.6 C914.0,1169.2 918.0,1165.2 922.0,1160.6 C926.0,1155.9 932.0,1147.4 934.0,1144.8" fill="none" stroke="#8000ff" stroke-width="5" stroke-linejoin="round" stroke-linecap="round" opacity="0.88"/>
<line x1="934.5" y1="1144.8" x2="934.5" y2="1149.0" stroke="#8000ff" stroke-width="5" stroke-linecap="butt" opacity="0.88"/>
<path d="M268.7,1614.9 C269.9,1611.5 273.1,1600.6 276.0,1594.4 C278.9,1588.2 281.3,1583.4 286.0,1577.6 C290.7,1571.9 296.8,1565.8 304.0,1559.8 C311.2,1553.7 320.7,1547.2 329.0,1541.3 C337.3,1535.4 347.7,1528.6 354.0,1524.5 C360.3,1520.5 358.5,1520.9 367.0,1517.0 C375.5,1513.0 392.3,1505.0 405.0,1500.8 C417.7,1496.6 430.3,1493.8 443.0,1491.9 C455.7,1490.0 469.8,1489.7 481.0,1489.2 C492.2,1488.7 501.0,1488.4 510.0,1488.6 C519.0,1488.8 526.2,1488.9 535.0,1490.6 C543.8,1492.3 555.5,1497.4 563.0,1499.0 C570.5,1500.6 574.2,1500.6 580.0,1500.4 C585.8,1500.2 592.8,1499.9 598.0,1498.0 C603.2,1496.1 607.3,1492.8 611.0,1489.2 C614.7,1485.6 617.0,1481.2 620.0,1476.2 C623.0,1471.2 625.0,1467.3 629.0,1459.2 C633.0,1451.1 638.8,1437.3 644.0,1427.6 C649.2,1417.9 654.2,1409.3 660.0,1401.2 C665.8,1393.1 672.5,1385.5 679.0,1378.8 C685.5,1372.1 692.3,1366.1 699.0,1360.8 C705.7,1355.5 712.3,1350.9 719.0,1346.8 C725.7,1342.7 732.3,1339.4 739.0,1336.2 C745.7,1333.0 752.3,1330.1 759.0,1327.4 C765.7,1324.8 772.3,1322.7 779.0,1320.3 C785.7,1317.9 792.5,1315.9 799.0,1313.3 C805.5,1310.7 811.5,1307.4 818.0,1304.4 C824.5,1301.5 831.3,1298.8 838.0,1295.6 C844.7,1292.3 851.3,1288.9 858.0,1284.9 C864.7,1280.9 873.0,1275.5 878.0,1271.7 C883.0,1267.9 884.7,1266.2 888.0,1262.2 C891.3,1258.2 894.3,1253.3 898.0,1247.8 C901.7,1242.3 906.7,1235.5 910.0,1229.4 C913.3,1223.3 915.3,1217.3 918.0,1211.0 C920.7,1204.7 923.8,1198.1 926.0,1191.8 C928.2,1185.5 929.6,1182.1 931.0,1173.0 C932.4,1163.9 933.9,1143.0 934.5,1137.0" fill="none" stroke="#008000" stroke-width="5" stroke-linejoin="round" stroke-linecap="round" opacity="0.88"/>
<path d="M268.7,1612.3 C270.2,1604.4 274.3,1586.0 278.0,1564.9 C281.7,1543.7 286.7,1507.2 291.0,1485.4 C295.3,1463.5 299.8,1447.3 304.0,1433.6 C308.2,1419.9 311.8,1411.8 316.0,1403.2 C320.2,1394.5 322.7,1389.5 329.0,1381.5 C335.3,1373.5 345.5,1362.6 354.0,1355.0 C362.5,1347.5 371.5,1341.7 380.0,1336.3 C388.5,1331.0 396.7,1326.8 405.0,1322.7 C413.3,1318.6 421.7,1315.3 430.0,1311.9 C438.3,1308.4 446.5,1305.1 455.0,1302.2 C463.5,1299.3 471.8,1297.4 481.0,1294.7 C490.2,1292.0 496.8,1288.6 510.0,1286.0 C523.2,1283.5 545.0,1281.2 560.0,1279.4 C575.0,1277.5 590.0,1276.6 600.0,1274.9 C610.0,1273.1 613.3,1273.1 620.0,1268.9 C626.7,1264.6 633.3,1257.5 640.0,1249.4 C646.7,1241.3 653.5,1230.5 660.0,1220.2 C666.5,1210.0 674.0,1195.5 679.0,1187.9 C684.0,1180.3 686.0,1178.7 690.0,1174.5 C694.0,1170.2 698.2,1165.8 703.0,1162.5 C707.8,1159.2 713.0,1156.5 719.0,1154.9 C725.0,1153.2 732.3,1152.2 739.0,1152.6 C745.7,1152.9 752.3,1155.1 759.0,1157.0 C765.7,1159.0 772.3,1161.8 779.0,1164.1 C785.7,1166.4 792.5,1169.1 799.0,1171.1 C805.5,1173.0 811.5,1174.6 818.0,1175.8 C824.5,1177.0 831.3,1178.0 838.0,1178.2 C844.7,1178.4 851.3,1177.9 858.0,1177.2 C864.7,1176.4 871.3,1175.6 878.0,1173.6 C884.7,1171.7 892.7,1168.3 898.0,1165.5 C903.3,1162.8 906.0,1160.4 910.0,1156.9 C914.0,1153.5 918.0,1149.2 922.0,1144.9 C926.0,1140.6 932.0,1133.5 934.0,1131.2" fill="none" stroke="#008000" stroke-width="5" stroke-linejoin="round" stroke-linecap="round" opacity="0.88"/>
<line x1="934.5" y1="1131.2" x2="934.5" y2="1137.0" stroke="#008000" stroke-width="5" stroke-linecap="butt" opacity="0.88"/>
<path d="M268.7,1627.0 C269.9,1624.5 273.1,1617.0 276.0,1612.0 C278.9,1607.0 281.3,1602.3 286.0,1597.0 C290.7,1591.7 296.8,1585.8 304.0,1580.0 C311.2,1574.2 320.7,1567.8 329.0,1562.0 C337.3,1556.2 347.7,1549.2 354.0,1545.0 C360.3,1540.8 358.5,1541.2 367.0,1537.0 C375.5,1532.8 392.3,1524.3 405.0,1520.0 C417.7,1515.7 430.3,1512.8 443.0,1511.0 C455.7,1509.2 469.8,1509.3 481.0,1509.0 C492.2,1508.7 501.0,1508.5 510.0,1509.0 C519.0,1509.5 526.2,1510.0 535.0,1512.0 C543.8,1514.0 555.5,1519.5 563.0,1521.0 C570.5,1522.5 574.2,1521.8 580.0,1521.0 C585.8,1520.2 592.8,1518.7 598.0,1516.0 C603.2,1513.3 607.3,1509.3 611.0,1505.0 C614.7,1500.7 617.0,1495.5 620.0,1490.0 C623.0,1484.5 625.0,1480.8 629.0,1472.0 C633.0,1463.2 638.8,1447.7 644.0,1437.0 C649.2,1426.3 654.2,1416.8 660.0,1408.0 C665.8,1399.2 672.5,1391.3 679.0,1384.0 C685.5,1376.7 692.3,1370.0 699.0,1364.0 C705.7,1358.0 712.3,1352.7 719.0,1348.0 C725.7,1343.3 732.3,1339.7 739.0,1336.0 C745.7,1332.3 752.3,1329.0 759.0,1326.0 C765.7,1323.0 772.3,1320.7 779.0,1318.0 C785.7,1315.3 792.5,1313.0 799.0,1310.0 C805.5,1307.0 811.5,1303.2 818.0,1300.0 C824.5,1296.8 831.3,1294.0 838.0,1290.5 C844.7,1287.0 851.3,1283.2 858.0,1279.0 C864.7,1274.8 873.0,1269.0 878.0,1265.0 C883.0,1261.0 884.7,1259.3 888.0,1255.0 C891.3,1250.7 894.3,1245.0 898.0,1239.0 C901.7,1233.0 906.7,1225.7 910.0,1219.0 C913.3,1212.3 915.3,1205.7 918.0,1199.0 C920.7,1192.3 923.8,1185.5 926.0,1179.0 C928.2,1172.5 929.6,1169.0 931.0,1160.0 C932.4,1151.0 933.9,1130.8 934.5,1125.0" fill="none" stroke="#00cccc" stroke-width="5" stroke-linejoin="round" stroke-linecap="round" opacity="0.88"/>
<path d="M268.7,1623.0 C270.2,1614.5 274.3,1595.2 278.0,1572.0 C281.7,1548.8 286.7,1508.0 291.0,1484.0 C295.3,1460.0 299.8,1442.8 304.0,1428.0 C308.2,1413.2 311.8,1404.3 316.0,1395.0 C320.2,1385.7 322.7,1380.3 329.0,1372.0 C335.3,1363.7 345.5,1352.5 354.0,1345.0 C362.5,1337.5 371.5,1332.3 380.0,1327.0 C388.5,1321.7 396.7,1317.2 405.0,1313.0 C413.3,1308.8 421.7,1305.5 430.0,1302.0 C438.3,1298.5 446.5,1295.0 455.0,1292.0 C463.5,1289.0 471.8,1286.8 481.0,1284.0 C490.2,1281.2 496.8,1277.5 510.0,1275.0 C523.2,1272.5 545.0,1270.7 560.0,1269.0 C575.0,1267.3 590.0,1266.7 600.0,1265.0 C610.0,1263.3 613.3,1263.3 620.0,1259.0 C626.7,1254.7 633.3,1247.3 640.0,1239.0 C646.7,1230.7 653.5,1219.7 660.0,1209.0 C666.5,1198.3 674.0,1183.2 679.0,1175.0 C684.0,1166.8 686.0,1164.8 690.0,1160.0 C694.0,1155.2 698.2,1150.0 703.0,1146.0 C707.8,1142.0 713.0,1138.3 719.0,1136.0 C725.0,1133.7 732.3,1132.0 739.0,1132.0 C745.7,1132.0 752.3,1134.0 759.0,1136.0 C765.7,1138.0 772.3,1141.2 779.0,1144.0 C785.7,1146.8 792.5,1150.0 799.0,1152.5 C805.5,1155.0 811.5,1157.2 818.0,1159.0 C824.5,1160.8 831.3,1162.2 838.0,1163.0 C844.7,1163.8 851.3,1163.8 858.0,1163.5 C864.7,1163.2 871.3,1162.8 878.0,1161.0 C884.7,1159.2 892.7,1155.8 898.0,1153.0 C903.3,1150.2 906.0,1147.5 910.0,1144.0 C914.0,1140.5 918.0,1136.0 922.0,1132.0 C926.0,1128.0 932.0,1122.0 934.0,1120.0" fill="none" stroke="#00cccc" stroke-width="5" stroke-linejoin="round" stroke-linecap="round" opacity="0.88"/>
<line x1="934.5" y1="1120.0" x2="934.5" y2="1125.0" stroke="#00cccc" stroke-width="5" stroke-linecap="butt" opacity="0.88"/>
<line x1="306.0" y1="1016.0" x2="306.0" y2="1221.0" stroke="#666" stroke-width="5" stroke-linecap="butt"/>
<line x1="304.0" y1="1219.0" x2="559.0" y2="1219.0" stroke="#666" stroke-width="5" stroke-linecap="butt"/>
<path d="M329.0,1071.0 L380.0,1063.5 L421.0,1055.5 L459.0,1049.5 L494.0,1044.5 L525.0,1039.5" fill="none" stroke="#555" stroke-width="4" stroke-linejoin="round" stroke-linecap="round"/>
<path d="M329.0,1162.0 L380.0,1166.5 L421.0,1170.0 L459.0,1173.5 L494.0,1175.5 L525.0,1180.0" fill="none" stroke="#555" stroke-width="4" stroke-linejoin="round" stroke-linecap="round"/>
<rect x="323.0" y="1065.0" width="12.0" height="12.0" fill="#e00000" opacity="0.9" rx="3"/>
<rect x="326.0" y="1068.0" width="6.0" height="6.0" fill="#700000" opacity="0.7" rx="2"/>
<rect x="374.0" y="1057.5" width="12.0" height="12.0" fill="#e00000" opacity="0.9" rx="3"/>
<rect x="377.0" y="1060.5" width="6.0" height="6.0" fill="#700000" opacity="0.7" rx="2"/>
<rect x="415.0" y="1049.5" width="12.0" height="12.0" fill="#e00000" opacity="0.9" rx="3"/>
<rect x="418.0" y="1052.5" width="6.0" height="6.0" fill="#700000" opacity="0.7" rx="2"/>
<rect x="453.0" y="1043.5" width="12.0" height="12.0" fill="#e00000" opacity="0.9" rx="3"/>
<rect x="456.0" y="1046.5" width="6.0" height="6.0" fill="#700000" opacity="0.7" rx="2"/>
<rect x="488.0" y="1038.5" width="12.0" height="12.0" fill="#e00000" opacity="0.9" rx="3"/>
<rect x="491.0" y="1041.5" width="6.0" height="6.0" fill="#700000" opacity="0.7" rx="2"/>
<rect x="519.0" y="1033.5" width="12.0" height="12.0" fill="#e00000" opacity="0.9" rx="3"/>
<rect x="522.0" y="1036.5" width="6.0" height="6.0" fill="#700000" opacity="0.7" rx="2"/>
<rect x="322.5" y="1155.5" width="13.0" height="13.0" fill="#0000e0" rx="3"/>
<rect x="373.5" y="1160.0" width="13.0" height="13.0" fill="#0000e0" rx="3"/>
<line x1="421.0" y1="1157.0" x2="421.0" y2="1183.0" stroke="#4040ff" stroke-width="5" stroke-linecap="butt" opacity="0.35"/>
<rect x="414.5" y="1163.5" width="13.0" height="13.0" fill="#0000e0" rx="3"/>
<line x1="459.0" y1="1160.5" x2="459.0" y2="1186.5" stroke="#4040ff" stroke-width="5" stroke-linecap="butt" opacity="0.35"/>
<rect x="452.5" y="1167.0" width="13.0" height="13.0" fill="#0000e0" rx="3"/>
<line x1="494.0" y1="1162.5" x2="494.0" y2="1188.5" stroke="#4040ff" stroke-width="5" stroke-linecap="butt" opacity="0.35"/>
<rect x="487.5" y="1169.0" width="13.0" height="13.0" fill="#0000e0" rx="3"/>
<line x1="525.0" y1="1167.0" x2="525.0" y2="1193.0" stroke="#4040ff" stroke-width="5" stroke-linecap="butt" opacity="0.35"/>
<rect x="518.5" y="1173.5" width="13.0" height="13.0" fill="#0000e0" rx="3"/>
<text x="300.0" y="1027.0" font-size="24" text-anchor="end" fill="#444" stroke="#444" stroke-width="0.72" stroke-linejoin="round">40</text>
<text x="300.0" y="1128.0" font-size="24" text-anchor="end" fill="#555" stroke="#555" stroke-width="0.72" stroke-linejoin="round">0</text>
<text x="300.0" y="1226.0" font-size="24" text-anchor="end" fill="#444" stroke="#444" stroke-width="0.72" stroke-linejoin="round">-40</text>
<text x="306.0" y="1247.0" font-size="24" text-anchor="middle" fill="#555" stroke="#555" stroke-width="0.72" stroke-linejoin="round">2</text>
<text x="405.0" y="1247.0" font-size="24" text-anchor="middle" fill="#555" stroke="#555" stroke-width="0.72" stroke-linejoin="round">3</text>
<text x="505.0" y="1247.0" font-size="24" text-anchor="middle" fill="#555" stroke="#555" stroke-width="0.72" stroke-linejoin="round">4</text>
<line x1="405.0" y1="1219.0" x2="405.0" y2="1214.0" stroke="#555" stroke-width="4" stroke-linecap="butt" opacity="0.7"/>
<line x1="505.0" y1="1219.0" x2="505.0" y2="1214.0" stroke="#555" stroke-width="4" stroke-linecap="butt" opacity="0.7"/>
<line x1="306.0" y1="1119.0" x2="311.0" y2="1119.0" stroke="#555" stroke-width="4" stroke-linecap="butt" opacity="0.7"/>
<text x="259.0" y="1118.0" font-size="26" text-anchor="middle" fill="#222" font-weight="bold" transform="rotate(-90 259.0 1118.0)" stroke="#222" stroke-width="0.26" stroke-linejoin="round">Peak current (μA)</text>
<text x="430.0" y="1276.0" font-size="28" text-anchor="middle" fill="#444" font-weight="bold" stroke="#444" stroke-width="0.28" stroke-linejoin="round">υ<tspan dy="-12.3" font-size="17.4">1/2</tspan><tspan dy="12.3" font-size="28"> (mV</tspan><tspan dy="-12.3" font-size="17.4">1/2</tspan><tspan dy="12.3" font-size="28"> s</tspan><tspan dy="-12.3" font-size="17.4">-1/2</tspan><tspan dy="12.3" font-size="28">)</tspan></text>
<text x="659.0" y="1068.0" font-size="44" text-anchor="start" fill="#333" stroke="#333" stroke-width="1.32" stroke-linejoin="round">[Fe(CN)<tspan dy="8.8" font-size="26.4">6</tspan><tspan dy="-8.8" font-size="44">]</tspan><tspan dy="-18.5" font-size="28.2">3-/4-</tspan></text>
<line x1="687.0" y1="1402.0" x2="774.5" y2="1402.0" stroke="#000000" stroke-width="10" stroke-linecap="butt" opacity="0.5"/>
<text x="786.0" y="1416.5" font-size="38" text-anchor="start" fill="#222" stroke="#222" stroke-width="1.14" stroke-linejoin="round">5 mV s<tspan dy="-17.5" font-size="26.6">-1</tspan></text>
<line x1="687.0" y1="1453.7" x2="774.5" y2="1453.7" stroke="#ff0000" stroke-width="7" stroke-linecap="butt" opacity="0.85"/>
<text x="786.0" y="1468.2" font-size="38" text-anchor="start" fill="#222" stroke="#222" stroke-width="1.14" stroke-linejoin="round">7.5 mV s<tspan dy="-17.5" font-size="26.6">-1</tspan></text>
<line x1="687.0" y1="1504.3" x2="774.5" y2="1504.3" stroke="#0000ff" stroke-width="7" stroke-linecap="butt" opacity="0.85"/>
<text x="786.0" y="1518.8" font-size="38" text-anchor="start" fill="#222" stroke="#222" stroke-width="1.14" stroke-linejoin="round">10 mV s<tspan dy="-17.5" font-size="26.6">-1</tspan></text>
<line x1="687.0" y1="1558.0" x2="774.5" y2="1558.0" stroke="#8000ff" stroke-width="5.5" stroke-linecap="butt" opacity="0.85"/>
<text x="786.0" y="1572.5" font-size="38" text-anchor="start" fill="#222" stroke="#222" stroke-width="1.14" stroke-linejoin="round">12.5 mV s<tspan dy="-17.5" font-size="26.6">-1</tspan></text>
<line x1="687.0" y1="1609.5" x2="774.5" y2="1609.5" stroke="#008000" stroke-width="10" stroke-linecap="butt" opacity="0.55"/>
<text x="786.0" y="1624.0" font-size="38" text-anchor="start" fill="#222" stroke="#222" stroke-width="1.14" stroke-linejoin="round">15 mV s<tspan dy="-17.5" font-size="26.6">-1</tspan></text>
<line x1="687.0" y1="1661.0" x2="774.5" y2="1661.0" stroke="#00cccc" stroke-width="7" stroke-linecap="butt" opacity="0.8"/>
<text x="786.0" y="1675.5" font-size="38" text-anchor="start" fill="#222" stroke="#222" stroke-width="1.14" stroke-linejoin="round">17.5 mV s<tspan dy="-17.5" font-size="26.6">-1</tspan></text>
<line x1="208.8" y1="998.0" x2="208.8" y2="1703.0" stroke="#b8b8b8" stroke-width="5" stroke-linecap="butt"/>
<line x1="994.9" y1="998.0" x2="994.9" y2="1703.0" stroke="#a8a8a8" stroke-width="5" stroke-linecap="butt"/>
<line x1="213.8" y1="998.0" x2="213.8" y2="1703.0" stroke="#333" stroke-width="5" stroke-linecap="butt"/>
<line x1="210.8" y1="1001.0" x2="992.4" y2="1001.0" stroke="#2a2a2a" stroke-width="5" stroke-linecap="butt"/>
<line x1="989.4" y1="998.0" x2="989.4" y2="1703.0" stroke="#4a4a4a" stroke-width="6" stroke-linecap="butt"/>
<line x1="210.8" y1="1700.0" x2="992.4" y2="1700.0" stroke="#0a0a0a" stroke-width="5.5" stroke-linecap="butt"/>
<line x1="268.6" y1="1700.0" x2="268.6" y2="1689.0" stroke="#111" stroke-width="4.5" stroke-linecap="butt" opacity="0.68"/>
<line x1="268.6" y1="1001.0" x2="268.6" y2="1012.0" stroke="#111" stroke-width="4.5" stroke-linecap="butt" opacity="0.68"/>
<line x1="379.7" y1="1700.0" x2="379.7" y2="1689.0" stroke="#111" stroke-width="4.5" stroke-linecap="butt" opacity="0.68"/>
<line x1="379.7" y1="1001.0" x2="379.7" y2="1012.0" stroke="#111" stroke-width="4.5" stroke-linecap="butt" opacity="0.68"/>
<line x1="490.7" y1="1700.0" x2="490.7" y2="1689.0" stroke="#111" stroke-width="4.5" stroke-linecap="butt" opacity="0.68"/>
<line x1="490.7" y1="1001.0" x2="490.7" y2="1012.0" stroke="#111" stroke-width="4.5" stroke-linecap="butt" opacity="0.68"/>
<line x1="601.8" y1="1700.0" x2="601.8" y2="1689.0" stroke="#111" stroke-width="4.5" stroke-linecap="butt" opacity="0.68"/>
<line x1="601.8" y1="1001.0" x2="601.8" y2="1012.0" stroke="#111" stroke-width="4.5" stroke-linecap="butt" opacity="0.68"/>
<line x1="712.8" y1="1700.0" x2="712.8" y2="1689.0" stroke="#111" stroke-width="4.5" stroke-linecap="butt" opacity="0.68"/>
<line x1="712.8" y1="1001.0" x2="712.8" y2="1012.0" stroke="#111" stroke-width="4.5" stroke-linecap="butt" opacity="0.68"/>
<line x1="823.9" y1="1700.0" x2="823.9" y2="1689.0" stroke="#111" stroke-width="4.5" stroke-linecap="butt" opacity="0.68"/>
<line x1="823.9" y1="1001.0" x2="823.9" y2="1012.0" stroke="#111" stroke-width="4.5" stroke-linecap="butt" opacity="0.68"/>
<line x1="934.9" y1="1700.0" x2="934.9" y2="1689.0" stroke="#111" stroke-width="4.5" stroke-linecap="butt" opacity="0.68"/>
<line x1="934.9" y1="1001.0" x2="934.9" y2="1012.0" stroke="#111" stroke-width="4.5" stroke-linecap="butt" opacity="0.68"/>
<line x1="324.2" y1="1700.0" x2="324.2" y2="1693.5" stroke="#111" stroke-width="4.5" stroke-linecap="butt" opacity="0.5"/>
<line x1="324.2" y1="1001.0" x2="324.2" y2="1007.5" stroke="#111" stroke-width="4.5" stroke-linecap="butt" opacity="0.5"/>
<line x1="435.2" y1="1700.0" x2="435.2" y2="1693.5" stroke="#111" stroke-width="4.5" stroke-linecap="butt" opacity="0.5"/>
<line x1="435.2" y1="1001.0" x2="435.2" y2="1007.5" stroke="#111" stroke-width="4.5" stroke-linecap="butt" opacity="0.5"/>
<line x1="546.3" y1="1700.0" x2="546.3" y2="1693.5" stroke="#111" stroke-width="4.5" stroke-linecap="butt" opacity="0.5"/>
<line x1="546.3" y1="1001.0" x2="546.3" y2="1007.5" stroke="#111" stroke-width="4.5" stroke-linecap="butt" opacity="0.5"/>
<line x1="657.3" y1="1700.0" x2="657.3" y2="1693.5" stroke="#111" stroke-width="4.5" stroke-linecap="butt" opacity="0.5"/>
<line x1="657.3" y1="1001.0" x2="657.3" y2="1007.5" stroke="#111" stroke-width="4.5" stroke-linecap="butt" opacity="0.5"/>
<line x1="768.4" y1="1700.0" x2="768.4" y2="1693.5" stroke="#111" stroke-width="4.5" stroke-linecap="butt" opacity="0.5"/>
<line x1="768.4" y1="1001.0" x2="768.4" y2="1007.5" stroke="#111" stroke-width="4.5" stroke-linecap="butt" opacity="0.5"/>
<line x1="879.4" y1="1700.0" x2="879.4" y2="1693.5" stroke="#111" stroke-width="4.5" stroke-linecap="butt" opacity="0.5"/>
<line x1="879.4" y1="1001.0" x2="879.4" y2="1007.5" stroke="#111" stroke-width="4.5" stroke-linecap="butt" opacity="0.5"/>
<line x1="213.8" y1="1611.1" x2="224.8" y2="1611.1" stroke="#111" stroke-width="4.5" stroke-linecap="butt" opacity="0.55"/>
<line x1="989.4" y1="1611.1" x2="978.4" y2="1611.1" stroke="#111" stroke-width="4.5" stroke-linecap="butt" opacity="0.66"/>
<line x1="213.8" y1="1523.8" x2="224.8" y2="1523.8" stroke="#111" stroke-width="4.5" stroke-linecap="butt" opacity="0.55"/>
<line x1="989.4" y1="1523.8" x2="978.4" y2="1523.8" stroke="#111" stroke-width="4.5" stroke-linecap="butt" opacity="0.66"/>
<line x1="213.8" y1="1436.4" x2="224.8" y2="1436.4" stroke="#111" stroke-width="4.5" stroke-linecap="butt" opacity="0.55"/>
<line x1="989.4" y1="1436.4" x2="978.4" y2="1436.4" stroke="#111" stroke-width="4.5" stroke-linecap="butt" opacity="0.66"/>
<line x1="213.8" y1="1349.0" x2="224.8" y2="1349.0" stroke="#111" stroke-width="4.5" stroke-linecap="butt" opacity="0.55"/>
<line x1="989.4" y1="1349.0" x2="978.4" y2="1349.0" stroke="#111" stroke-width="4.5" stroke-linecap="butt" opacity="0.66"/>
<line x1="213.8" y1="1261.6" x2="224.8" y2="1261.6" stroke="#111" stroke-width="4.5" stroke-linecap="butt" opacity="0.55"/>
<line x1="989.4" y1="1261.6" x2="978.4" y2="1261.6" stroke="#111" stroke-width="4.5" stroke-linecap="butt" opacity="0.66"/>
<line x1="213.8" y1="1174.2" x2="224.8" y2="1174.2" stroke="#111" stroke-width="4.5" stroke-linecap="butt" opacity="0.55"/>
<line x1="989.4" y1="1174.2" x2="978.4" y2="1174.2" stroke="#111" stroke-width="4.5" stroke-linecap="butt" opacity="0.66"/>
<line x1="213.8" y1="1086.9" x2="224.8" y2="1086.9" stroke="#111" stroke-width="4.5" stroke-linecap="butt" opacity="0.55"/>
<line x1="989.4" y1="1086.9" x2="978.4" y2="1086.9" stroke="#111" stroke-width="4.5" stroke-linecap="butt" opacity="0.66"/>
<line x1="213.8" y1="1654.8" x2="219.8" y2="1654.8" stroke="#111" stroke-width="4.5" stroke-linecap="butt" opacity="0.45"/>
<line x1="989.4" y1="1654.8" x2="983.4" y2="1654.8" stroke="#111" stroke-width="4.5" stroke-linecap="butt" opacity="0.54"/>
<line x1="213.8" y1="1567.4" x2="219.8" y2="1567.4" stroke="#111" stroke-width="4.5" stroke-linecap="butt" opacity="0.45"/>
<line x1="989.4" y1="1567.4" x2="983.4" y2="1567.4" stroke="#111" stroke-width="4.5" stroke-linecap="butt" opacity="0.54"/>
<line x1="213.8" y1="1480.1" x2="219.8" y2="1480.1" stroke="#111" stroke-width="4.5" stroke-linecap="butt" opacity="0.45"/>
<line x1="989.4" y1="1480.1" x2="983.4" y2="1480.1" stroke="#111" stroke-width="4.5" stroke-linecap="butt" opacity="0.54"/>
<line x1="213.8" y1="1392.7" x2="219.8" y2="1392.7" stroke="#111" stroke-width="4.5" stroke-linecap="butt" opacity="0.45"/>
<line x1="989.4" y1="1392.7" x2="983.4" y2="1392.7" stroke="#111" stroke-width="4.5" stroke-linecap="butt" opacity="0.54"/>
<line x1="213.8" y1="1305.3" x2="219.8" y2="1305.3" stroke="#111" stroke-width="4.5" stroke-linecap="butt" opacity="0.45"/>
<line x1="989.4" y1="1305.3" x2="983.4" y2="1305.3" stroke="#111" stroke-width="4.5" stroke-linecap="butt" opacity="0.54"/>
<line x1="213.8" y1="1217.9" x2="219.8" y2="1217.9" stroke="#111" stroke-width="4.5" stroke-linecap="butt" opacity="0.45"/>
<line x1="989.4" y1="1217.9" x2="983.4" y2="1217.9" stroke="#111" stroke-width="4.5" stroke-linecap="butt" opacity="0.54"/>
<line x1="213.8" y1="1130.6" x2="219.8" y2="1130.6" stroke="#111" stroke-width="4.5" stroke-linecap="butt" opacity="0.45"/>
<line x1="989.4" y1="1130.6" x2="983.4" y2="1130.6" stroke="#111" stroke-width="4.5" stroke-linecap="butt" opacity="0.54"/>
<line x1="213.8" y1="1043.2" x2="219.8" y2="1043.2" stroke="#111" stroke-width="4.5" stroke-linecap="butt" opacity="0.45"/>
<line x1="989.4" y1="1043.2" x2="983.4" y2="1043.2" stroke="#111" stroke-width="4.5" stroke-linecap="butt" opacity="0.54"/>
<text x="266.1" y="1753.5" font-size="52.5" text-anchor="middle" fill="#1a1a1a" letter-spacing="-1" stroke="#1a1a1a" stroke-width="1.575" stroke-linejoin="round">-0.6</text>
<text x="377.2" y="1753.5" font-size="52.5" text-anchor="middle" fill="#1a1a1a" letter-spacing="-1" stroke="#1a1a1a" stroke-width="1.575" stroke-linejoin="round">-0.4</text>
<text x="488.2" y="1753.5" font-size="52.5" text-anchor="middle" fill="#1a1a1a" letter-spacing="-1" stroke="#1a1a1a" stroke-width="1.575" stroke-linejoin="round">-0.2</text>
<text x="601.8" y="1753.5" font-size="52.5" text-anchor="middle" fill="#1a1a1a" letter-spacing="-1" stroke="#1a1a1a" stroke-width="1.575" stroke-linejoin="round">0.0</text>
<text x="712.8" y="1753.5" font-size="52.5" text-anchor="middle" fill="#1a1a1a" letter-spacing="-1" stroke="#1a1a1a" stroke-width="1.575" stroke-linejoin="round">0.2</text>
<text x="823.9" y="1753.5" font-size="52.5" text-anchor="middle" fill="#1a1a1a" letter-spacing="-1" stroke="#1a1a1a" stroke-width="1.575" stroke-linejoin="round">0.4</text>
<text x="934.9" y="1753.5" font-size="52.5" text-anchor="middle" fill="#1a1a1a" letter-spacing="-1" stroke="#1a1a1a" stroke-width="1.575" stroke-linejoin="round">0.6</text>
<text x="198.0" y="1714.3" font-size="52.5" text-anchor="end" fill="#1a1a1a" letter-spacing="-1" stroke="#1a1a1a" stroke-width="1.575" stroke-linejoin="round">-100</text>
<text x="198.0" y="1626.9" font-size="52.5" text-anchor="end" fill="#1a1a1a" letter-spacing="-1" stroke="#1a1a1a" stroke-width="1.575" stroke-linejoin="round">-75</text>
<text x="198.0" y="1539.5" font-size="52.5" text-anchor="end" fill="#1a1a1a" letter-spacing="-1" stroke="#1a1a1a" stroke-width="1.575" stroke-linejoin="round">-50</text>
<text x="198.0" y="1452.2" font-size="52.5" text-anchor="end" fill="#1a1a1a" letter-spacing="-1" stroke="#1a1a1a" stroke-width="1.575" stroke-linejoin="round">-25</text>
<text x="198.0" y="1364.8" font-size="52.5" text-anchor="end" fill="#1a1a1a" letter-spacing="-1" stroke="#1a1a1a" stroke-width="1.575" stroke-linejoin="round">0</text>
<text x="198.0" y="1277.4" font-size="52.5" text-anchor="end" fill="#1a1a1a" letter-spacing="-1" stroke="#1a1a1a" stroke-width="1.575" stroke-linejoin="round">25</text>
<text x="198.0" y="1190.0" font-size="52.5" text-anchor="end" fill="#1a1a1a" letter-spacing="-1" stroke="#1a1a1a" stroke-width="1.575" stroke-linejoin="round">50</text>
<text x="198.0" y="1102.7" font-size="52.5" text-anchor="end" fill="#1a1a1a" letter-spacing="-1" stroke="#1a1a1a" stroke-width="1.575" stroke-linejoin="round">75</text>
<text x="198.0" y="1015.3" font-size="52.5" text-anchor="end" fill="#1a1a1a" letter-spacing="-1" stroke="#1a1a1a" stroke-width="1.575" stroke-linejoin="round">100</text>
<text x="601.0" y="1832.5" font-size="52" text-anchor="middle" fill="#111" font-weight="bold" stroke="#111" stroke-width="0.52" stroke-linejoin="round">E vs. PRE (V)</text>
<text x="53.0" y="1331.0" font-size="52" text-anchor="middle" fill="#111" font-weight="bold" transform="rotate(-90 53.0 1331.0)" stroke="#111" stroke-width="0.52" stroke-linejoin="round">Current (μA)</text>
<text x="1063.0" y="934.0" font-size="72" text-anchor="start" fill="#000" font-weight="bold" stroke="#000" stroke-width="0.72" stroke-linejoin="round">(d)</text>
<path d="M1929.4,1338.5 C1922.4,1339.3 1902.5,1342.0 1887.2,1343.5 C1871.9,1345.0 1854.1,1346.2 1837.6,1347.2 C1821.1,1348.2 1802.5,1348.9 1788.0,1349.7 C1773.5,1350.5 1761.1,1351.0 1750.8,1352.0 C1740.5,1353.0 1734.3,1354.0 1726.0,1355.9 C1717.7,1357.8 1707.8,1360.6 1701.2,1363.3 C1694.6,1366.0 1690.5,1369.4 1686.4,1372.0 C1682.3,1374.6 1680.5,1376.1 1676.4,1379.0 C1672.3,1381.9 1668.2,1384.4 1661.6,1389.5 C1655.0,1394.6 1645.1,1403.8 1636.8,1409.4 C1628.5,1415.0 1620.3,1419.5 1612.0,1423.0 C1603.7,1426.5 1595.5,1428.5 1587.2,1430.4 C1578.9,1432.3 1570.7,1433.0 1562.4,1434.2 C1554.1,1435.5 1545.9,1436.5 1537.6,1437.9 C1529.3,1439.3 1521.1,1440.7 1512.8,1442.8 C1504.5,1444.9 1496.3,1447.2 1488.0,1450.3 C1479.7,1453.4 1471.5,1457.3 1463.2,1461.4 C1454.9,1465.5 1446.7,1470.5 1438.4,1475.0 C1430.1,1479.5 1421.9,1483.9 1413.6,1488.7 C1405.3,1493.5 1397.1,1498.6 1388.8,1503.6 C1380.5,1508.6 1372.3,1513.1 1364.0,1518.5 C1355.7,1523.9 1347.5,1528.9 1339.2,1535.9 C1330.9,1542.9 1320.0,1553.4 1314.4,1560.7 C1308.8,1568.0 1307.2,1576.8 1305.7,1580.0" fill="none" stroke="#000000" stroke-width="5" stroke-linejoin="round" stroke-linecap="round" opacity="0.88"/>
<path d="M1305.7,1580.0 C1307.2,1576.8 1308.8,1569.0 1314.4,1560.7 C1320.0,1552.4 1330.9,1538.1 1339.2,1530.0 C1347.5,1521.9 1355.7,1517.7 1364.0,1512.0 C1372.3,1506.3 1380.5,1501.5 1388.8,1496.0 C1397.1,1490.5 1405.3,1484.3 1413.6,1479.0 C1421.9,1473.7 1430.1,1469.0 1438.4,1464.0 C1446.7,1459.0 1454.9,1454.5 1463.2,1449.0 C1471.5,1443.5 1479.7,1436.2 1488.0,1431.0 C1496.3,1425.8 1504.5,1422.4 1512.8,1418.0 C1521.1,1413.6 1528.9,1409.3 1537.6,1404.5 C1546.3,1399.7 1556.1,1394.4 1564.8,1389.0 C1573.5,1383.6 1581.3,1377.5 1589.6,1372.0 C1597.9,1366.5 1606.1,1360.9 1614.4,1356.0 C1622.7,1351.1 1632.2,1346.0 1639.2,1342.5 C1646.2,1339.0 1651.2,1337.0 1656.6,1334.8 C1662.0,1332.5 1666.0,1330.2 1671.4,1329.0 C1676.8,1327.8 1681.8,1327.4 1688.8,1327.3 C1695.8,1327.2 1703.3,1327.8 1713.6,1328.6 C1723.9,1329.4 1738.4,1331.4 1750.8,1332.3 C1763.2,1333.2 1758.2,1333.6 1788.0,1334.0 C1817.8,1334.4 1905.8,1334.7 1929.4,1334.8" fill="none" stroke="#000000" stroke-width="5" stroke-linejoin="round" stroke-linecap="round" opacity="0.88"/>
<line x1="1929.4" y1="1334.8" x2="1929.4" y2="1338.5" stroke="#000000" stroke-width="5" stroke-linecap="butt" opacity="0.35"/>
<path d="M1305.7,1583.0 C1307.2,1581.8 1308.8,1580.0 1314.4,1575.5 C1320.0,1571.0 1330.9,1561.5 1339.2,1555.7 C1347.5,1549.9 1355.7,1545.8 1364.0,1540.8 C1372.3,1535.8 1380.5,1530.5 1388.8,1526.0 C1397.1,1521.5 1405.3,1517.7 1413.6,1513.5 C1421.9,1509.3 1430.1,1505.1 1438.4,1501.0 C1446.7,1496.9 1454.9,1492.0 1463.2,1488.7 C1471.5,1485.4 1479.7,1483.4 1488.0,1481.3 C1496.3,1479.2 1504.5,1477.1 1512.8,1476.3 C1521.1,1475.5 1529.3,1476.3 1537.6,1476.3 C1545.9,1476.3 1556.2,1476.7 1562.4,1476.3 C1568.6,1475.9 1570.7,1475.0 1574.8,1473.9 C1578.9,1472.9 1583.1,1472.1 1587.2,1470.0 C1591.3,1467.9 1595.5,1465.0 1599.6,1461.5 C1603.7,1458.0 1607.9,1452.9 1612.0,1449.0 C1616.1,1445.1 1619.9,1442.0 1624.0,1438.0 C1628.1,1434.0 1632.2,1429.7 1636.8,1425.0 C1641.4,1420.3 1647.1,1414.5 1651.6,1410.0 C1656.1,1405.5 1659.9,1401.7 1664.0,1398.0 C1668.1,1394.3 1672.3,1391.0 1676.4,1388.0 C1680.5,1385.0 1684.7,1382.4 1688.8,1380.0 C1692.9,1377.6 1697.1,1375.3 1701.2,1373.5 C1705.3,1371.7 1709.5,1370.4 1713.6,1369.0 C1717.7,1367.6 1719.8,1366.4 1726.0,1365.0 C1732.2,1363.6 1740.5,1361.8 1750.8,1360.5 C1761.1,1359.2 1775.6,1358.1 1788.0,1357.0 C1800.4,1355.9 1812.8,1355.1 1825.2,1354.0 C1837.6,1352.9 1850.0,1351.8 1862.4,1350.5 C1874.8,1349.2 1888.4,1347.9 1899.6,1346.0 C1910.8,1344.1 1924.4,1340.2 1929.4,1339.0" fill="none" stroke="#ff0000" stroke-width="5" stroke-linejoin="round" stroke-linecap="round" opacity="0.88"/>
<path d="M1305.7,1568.0 C1306.3,1566.0 1308.0,1559.4 1309.4,1555.7 C1310.9,1552.0 1311.5,1550.3 1314.4,1545.8 C1317.3,1541.2 1322.7,1533.4 1326.8,1528.4 C1330.9,1523.4 1335.1,1519.5 1339.2,1516.0 C1343.3,1512.5 1347.5,1510.0 1351.6,1507.3 C1355.7,1504.6 1357.8,1503.4 1364.0,1500.0 C1370.2,1496.6 1380.5,1491.5 1388.8,1487.0 C1397.1,1482.5 1405.3,1477.7 1413.6,1473.0 C1421.9,1468.3 1430.1,1463.8 1438.4,1459.0 C1446.7,1454.2 1454.9,1449.5 1463.2,1444.0 C1471.5,1438.5 1479.7,1431.2 1488.0,1426.0 C1496.3,1420.8 1504.5,1417.5 1512.8,1413.0 C1521.1,1408.5 1528.9,1404.2 1537.6,1399.0 C1546.3,1393.8 1556.1,1388.0 1564.8,1382.0 C1573.5,1376.0 1581.3,1370.3 1589.6,1363.0 C1597.9,1355.7 1608.2,1344.4 1614.4,1338.0 C1620.6,1331.6 1622.7,1328.6 1626.8,1324.6 C1630.9,1320.6 1635.1,1317.0 1639.2,1314.0 C1643.3,1311.0 1648.1,1308.2 1651.6,1306.3 C1655.1,1304.3 1657.4,1303.4 1660.0,1302.3 C1662.6,1301.2 1664.8,1300.5 1667.0,1299.8 C1669.2,1299.1 1671.0,1298.7 1673.0,1298.3 C1675.0,1297.9 1675.4,1297.6 1678.9,1297.6 C1682.4,1297.5 1689.5,1297.6 1693.8,1298.0 C1698.1,1298.4 1701.7,1299.2 1705.0,1300.0 C1708.3,1300.8 1708.8,1301.0 1713.6,1302.5 C1718.3,1304.0 1727.3,1306.8 1733.5,1308.7 C1739.7,1310.6 1743.8,1312.2 1750.8,1313.7 C1757.8,1315.2 1767.3,1316.7 1775.6,1317.4 C1783.9,1318.2 1788.0,1318.1 1800.4,1318.2 C1812.8,1318.3 1828.5,1318.2 1850.0,1318.2 C1871.5,1318.2 1916.2,1318.2 1929.4,1318.2" fill="none" stroke="#ff0000" stroke-width="5" stroke-linejoin="round" stroke-linecap="round" opacity="0.88"/>
<line x1="1929.4" y1="1318.2" x2="1929.4" y2="1339.0" stroke="#ff0000" stroke-width="5" stroke-linecap="butt" opacity="0.35"/>
<path d="M1305.7,1598.0 C1307.2,1596.7 1308.8,1594.2 1314.4,1590.4 C1320.0,1586.7 1330.9,1580.1 1339.2,1575.5 C1347.5,1570.9 1355.7,1567.5 1364.0,1563.0 C1372.3,1558.5 1380.5,1553.2 1388.8,1548.3 C1397.1,1543.4 1405.3,1538.0 1413.6,1533.4 C1421.9,1528.9 1430.1,1524.9 1438.4,1521.0 C1446.7,1517.1 1454.9,1512.7 1463.2,1509.8 C1471.5,1506.9 1479.7,1505.1 1488.0,1503.6 C1496.3,1502.1 1504.5,1501.2 1512.8,1501.0 C1521.1,1500.8 1529.3,1502.1 1537.6,1502.5 C1545.9,1502.9 1556.2,1504.0 1562.4,1503.6 C1568.6,1503.2 1570.7,1502.1 1574.8,1500.0 C1578.9,1497.9 1583.1,1494.5 1587.2,1491.2 C1591.3,1487.9 1595.5,1484.6 1599.6,1480.5 C1603.7,1476.3 1607.9,1470.9 1612.0,1466.3 C1616.1,1461.7 1619.9,1457.5 1624.0,1452.8 C1628.1,1448.0 1632.2,1443.0 1636.8,1437.7 C1641.4,1432.4 1647.1,1425.8 1651.6,1420.9 C1656.1,1416.0 1659.9,1412.0 1664.0,1408.1 C1668.1,1404.1 1672.3,1400.7 1676.4,1397.4 C1680.5,1394.0 1684.7,1390.9 1688.8,1388.1 C1692.9,1385.3 1697.1,1382.7 1701.2,1380.6 C1705.3,1378.5 1709.5,1376.9 1713.6,1375.3 C1717.7,1373.6 1719.8,1372.2 1726.0,1370.6 C1732.2,1369.0 1740.5,1367.1 1750.8,1365.6 C1761.1,1364.1 1775.6,1362.9 1788.0,1361.7 C1800.4,1360.5 1812.8,1359.5 1825.2,1358.1 C1837.6,1356.8 1850.0,1355.5 1862.4,1353.8 C1874.8,1352.2 1888.4,1350.5 1899.6,1348.1 C1910.8,1345.8 1924.4,1341.0 1929.4,1339.6" fill="none" stroke="#0000ff" stroke-width="5" stroke-linejoin="round" stroke-linecap="round" opacity="0.88"/>
<path d="M1305.7,1593.3 C1306.3,1590.4 1308.0,1581.7 1309.4,1575.9 C1310.9,1570.0 1311.5,1565.0 1314.4,1558.4 C1317.3,1551.9 1322.7,1543.0 1326.8,1536.8 C1330.9,1530.5 1335.1,1525.5 1339.2,1521.1 C1343.3,1516.6 1347.5,1513.4 1351.6,1510.3 C1355.7,1507.1 1357.8,1506.0 1364.0,1502.0 C1370.2,1498.1 1380.5,1491.6 1388.8,1486.3 C1397.1,1481.0 1405.3,1475.6 1413.6,1470.3 C1421.9,1465.1 1430.1,1460.1 1438.4,1454.8 C1446.7,1449.5 1454.9,1444.2 1463.2,1438.6 C1471.5,1433.0 1479.7,1426.4 1488.0,1421.2 C1496.3,1415.9 1504.5,1412.0 1512.8,1407.1 C1521.1,1402.3 1528.9,1397.5 1537.6,1392.0 C1546.3,1386.5 1556.1,1380.4 1564.8,1374.2 C1573.5,1368.0 1581.3,1362.6 1589.6,1354.7 C1597.9,1346.7 1608.2,1333.7 1614.4,1326.4 C1620.6,1319.1 1622.7,1315.5 1626.8,1310.8 C1630.9,1306.0 1635.1,1301.9 1639.2,1297.9 C1643.3,1293.9 1647.9,1290.1 1651.6,1286.9 C1655.3,1283.6 1658.3,1280.9 1661.4,1278.3 C1664.5,1275.8 1667.4,1273.5 1670.2,1271.6 C1673.0,1269.8 1675.5,1268.3 1678.4,1267.3 C1681.2,1266.2 1683.4,1265.2 1687.3,1265.1 C1691.3,1265.0 1697.7,1265.3 1702.2,1266.7 C1706.8,1268.0 1710.7,1270.9 1714.7,1273.5 C1718.7,1276.0 1721.4,1279.1 1726.2,1281.9 C1731.1,1284.6 1738.1,1287.7 1743.6,1290.2 C1749.1,1292.6 1752.5,1294.5 1759.2,1296.4 C1766.0,1298.3 1775.8,1300.5 1784.0,1301.8 C1792.3,1303.1 1797.8,1303.5 1808.8,1304.0 C1819.8,1304.5 1829.9,1304.7 1850.0,1304.9 C1870.1,1305.0 1916.2,1305.0 1929.4,1305.0" fill="none" stroke="#0000ff" stroke-width="5" stroke-linejoin="round" stroke-linecap="round" opacity="0.88"/>
<line x1="1929.4" y1="1305.0" x2="1929.4" y2="1339.6" stroke="#0000ff" stroke-width="5" stroke-linecap="butt" opacity="0.35"/>
<path d="M1305.7,1613.0 C1307.2,1611.7 1308.8,1608.8 1314.4,1605.0 C1320.0,1601.2 1330.9,1595.3 1339.2,1590.4 C1347.5,1585.5 1355.7,1580.5 1364.0,1575.5 C1372.3,1570.5 1380.5,1565.2 1388.8,1560.7 C1397.1,1556.2 1405.3,1552.4 1413.6,1548.3 C1421.9,1544.2 1430.1,1539.2 1438.4,1535.9 C1446.7,1532.6 1454.9,1530.1 1463.2,1528.4 C1471.5,1526.8 1479.7,1526.2 1488.0,1526.0 C1496.3,1525.8 1504.5,1526.6 1512.8,1527.2 C1521.1,1527.8 1529.3,1529.1 1537.6,1529.7 C1545.9,1530.3 1556.2,1531.6 1562.4,1531.0 C1568.6,1530.4 1570.7,1529.2 1574.8,1526.0 C1578.9,1522.8 1583.1,1516.5 1587.2,1512.0 C1591.3,1507.5 1595.5,1503.7 1599.6,1498.8 C1603.7,1494.0 1607.9,1488.3 1612.0,1483.0 C1616.1,1477.7 1619.9,1472.6 1624.0,1467.1 C1628.1,1461.6 1632.2,1456.0 1636.8,1450.0 C1641.4,1444.1 1647.1,1436.8 1651.6,1431.4 C1656.1,1426.1 1659.9,1421.9 1664.0,1417.8 C1668.1,1413.6 1672.3,1410.0 1676.4,1406.4 C1680.5,1402.8 1684.7,1399.1 1688.8,1396.0 C1692.9,1392.8 1697.1,1389.9 1701.2,1387.5 C1705.3,1385.0 1709.5,1383.2 1713.6,1381.3 C1717.7,1379.4 1719.8,1377.8 1726.0,1376.1 C1732.2,1374.3 1740.5,1372.2 1750.8,1370.6 C1761.1,1369.0 1775.6,1367.6 1788.0,1366.2 C1800.4,1364.8 1812.8,1363.7 1825.2,1362.2 C1837.6,1360.6 1850.0,1359.0 1862.4,1357.1 C1874.8,1355.1 1888.4,1353.0 1899.6,1350.2 C1910.8,1347.4 1924.4,1341.8 1929.4,1340.1" fill="none" stroke="#8000ff" stroke-width="5" stroke-linejoin="round" stroke-linecap="round" opacity="0.88"/>
<path d="M1305.7,1609.3 C1306.3,1605.9 1308.0,1595.8 1309.4,1588.6 C1310.9,1581.5 1311.5,1574.2 1314.4,1566.4 C1317.3,1558.7 1322.7,1549.1 1326.8,1542.1 C1330.9,1535.0 1335.1,1529.3 1339.2,1524.3 C1343.3,1519.3 1347.5,1515.6 1351.6,1512.1 C1355.7,1508.6 1357.8,1507.7 1364.0,1503.3 C1370.2,1499.0 1380.5,1491.7 1388.8,1485.9 C1397.1,1480.1 1405.3,1474.3 1413.6,1468.7 C1421.9,1463.0 1430.1,1457.7 1438.4,1452.1 C1446.7,1446.5 1454.9,1440.8 1463.2,1435.1 C1471.5,1429.5 1479.7,1423.4 1488.0,1418.1 C1496.3,1412.8 1504.5,1408.5 1512.8,1403.4 C1521.1,1398.3 1528.9,1393.3 1537.6,1387.6 C1546.3,1381.9 1556.1,1375.6 1564.8,1369.2 C1573.5,1362.9 1581.3,1357.8 1589.6,1349.4 C1597.9,1341.0 1608.2,1326.9 1614.4,1319.0 C1620.6,1311.1 1622.7,1307.2 1626.8,1302.0 C1630.9,1296.8 1635.1,1292.3 1639.2,1287.7 C1643.3,1283.1 1647.8,1278.7 1651.6,1274.6 C1655.4,1270.5 1658.8,1266.6 1662.2,1263.2 C1665.7,1259.7 1669.0,1256.4 1672.2,1253.8 C1675.5,1251.3 1678.4,1249.2 1681.8,1247.6 C1685.2,1246.1 1688.4,1244.7 1692.7,1244.5 C1697.0,1244.4 1702.9,1244.8 1707.6,1246.8 C1712.3,1248.9 1716.4,1253.0 1720.8,1256.7 C1725.3,1260.4 1729.4,1265.2 1734.2,1268.8 C1739.1,1272.4 1744.9,1275.7 1750.0,1278.5 C1755.0,1281.2 1758.0,1283.2 1764.6,1285.5 C1771.1,1287.7 1781.1,1290.3 1789.4,1291.9 C1797.6,1293.5 1804.1,1294.3 1814.2,1295.1 C1824.3,1295.8 1830.8,1296.2 1850.0,1296.4 C1869.2,1296.7 1916.2,1296.7 1929.4,1296.7" fill="none" stroke="#8000ff" stroke-width="5" stroke-linejoin="round" stroke-linecap="round" opacity="0.88"/>
<line x1="1929.4" y1="1296.7" x2="1929.4" y2="1340.1" stroke="#8000ff" stroke-width="5" stroke-linecap="butt" opacity="0.35"/>
<path d="M1305.7,1628.0 C1307.2,1626.7 1308.8,1624.2 1314.4,1620.0 C1320.0,1615.8 1330.9,1608.1 1339.2,1602.8 C1347.5,1597.5 1355.7,1592.8 1364.0,1588.0 C1372.3,1583.2 1380.5,1578.8 1388.8,1574.3 C1397.1,1569.8 1405.3,1564.6 1413.6,1560.7 C1421.9,1556.8 1430.1,1553.4 1438.4,1550.7 C1446.7,1548.0 1454.9,1545.7 1463.2,1544.5 C1471.5,1543.3 1479.7,1542.7 1488.0,1543.3 C1496.3,1543.9 1504.5,1546.6 1512.8,1548.3 C1521.1,1550.0 1529.3,1552.6 1537.6,1553.2 C1545.9,1553.8 1556.2,1554.0 1562.4,1552.0 C1568.6,1550.0 1570.7,1545.3 1574.8,1541.0 C1578.9,1536.7 1583.1,1531.0 1587.2,1526.0 C1591.3,1521.0 1595.5,1516.6 1599.6,1511.3 C1603.7,1506.0 1607.9,1500.0 1612.0,1494.3 C1616.1,1488.5 1619.9,1482.7 1624.0,1476.8 C1628.1,1470.8 1632.2,1464.7 1636.8,1458.4 C1641.4,1452.0 1647.1,1444.2 1651.6,1438.6 C1656.1,1432.9 1659.9,1428.7 1664.0,1424.4 C1668.1,1420.0 1672.3,1416.4 1676.4,1412.5 C1680.5,1408.7 1684.7,1404.7 1688.8,1401.3 C1692.9,1397.9 1697.1,1394.8 1701.2,1392.1 C1705.3,1389.5 1709.5,1387.5 1713.6,1385.4 C1717.7,1383.4 1719.8,1381.7 1726.0,1379.7 C1732.2,1377.8 1740.5,1375.7 1750.8,1374.0 C1761.1,1372.2 1775.6,1370.8 1788.0,1369.3 C1800.4,1367.8 1812.8,1366.5 1825.2,1364.9 C1837.6,1363.2 1850.0,1361.4 1862.4,1359.2 C1874.8,1357.0 1888.4,1354.7 1899.6,1351.6 C1910.8,1348.5 1924.4,1342.4 1929.4,1340.5" fill="none" stroke="#008000" stroke-width="5" stroke-linejoin="round" stroke-linecap="round" opacity="0.88"/>
<path d="M1305.7,1624.6 C1306.3,1620.6 1308.0,1609.2 1309.4,1600.8 C1310.9,1592.3 1311.5,1583.0 1314.4,1574.1 C1317.3,1565.1 1322.7,1554.9 1326.8,1547.1 C1330.9,1539.3 1335.1,1532.9 1339.2,1527.3 C1343.3,1521.8 1347.5,1517.7 1351.6,1513.9 C1355.7,1510.1 1357.8,1509.3 1364.0,1504.6 C1370.2,1499.8 1380.5,1491.7 1388.8,1485.5 C1397.1,1479.2 1405.3,1473.1 1413.6,1467.1 C1421.9,1461.1 1430.1,1455.4 1438.4,1449.6 C1446.7,1443.7 1454.9,1437.6 1463.2,1431.8 C1471.5,1426.1 1479.7,1420.5 1488.0,1415.2 C1496.3,1409.9 1504.5,1405.2 1512.8,1399.9 C1521.1,1394.5 1528.9,1389.2 1537.6,1383.3 C1546.3,1377.5 1556.1,1371.0 1564.8,1364.5 C1573.5,1358.0 1581.3,1353.1 1589.6,1344.4 C1597.9,1335.6 1608.2,1320.5 1614.4,1312.0 C1620.6,1303.6 1622.7,1299.3 1626.8,1293.7 C1630.9,1288.0 1635.1,1283.1 1639.2,1278.0 C1643.3,1272.8 1647.6,1267.8 1651.6,1262.9 C1655.6,1258.0 1659.3,1253.1 1663.0,1248.7 C1666.8,1244.4 1670.5,1240.2 1674.1,1236.9 C1677.8,1233.6 1681.1,1230.9 1685.0,1228.9 C1688.9,1226.9 1693.1,1225.1 1697.7,1224.9 C1702.4,1224.8 1707.8,1225.3 1712.6,1227.9 C1717.5,1230.6 1721.8,1236.0 1726.7,1240.7 C1731.5,1245.5 1737.0,1251.9 1741.9,1256.4 C1746.8,1260.8 1751.4,1264.2 1756.1,1267.3 C1760.7,1270.4 1763.3,1272.5 1769.6,1275.0 C1776.0,1277.6 1786.2,1280.6 1794.4,1282.5 C1802.7,1284.4 1810.0,1285.5 1819.2,1286.5 C1828.5,1287.5 1831.6,1288.0 1850.0,1288.4 C1868.4,1288.8 1916.2,1288.7 1929.4,1288.8" fill="none" stroke="#008000" stroke-width="5" stroke-linejoin="round" stroke-linecap="round" opacity="0.88"/>
<line x1="1929.4" y1="1288.8" x2="1929.4" y2="1340.5" stroke="#008000" stroke-width="5" stroke-linecap="butt" opacity="0.35"/>
<path d="M1305.7,1642.5 C1307.2,1641.2 1308.8,1639.1 1314.4,1635.0 C1320.0,1630.9 1330.9,1623.1 1339.2,1617.7 C1347.5,1612.3 1355.7,1607.8 1364.0,1602.8 C1372.3,1597.8 1380.5,1592.8 1388.8,1588.0 C1397.1,1583.2 1405.3,1578.2 1413.6,1574.3 C1421.9,1570.4 1430.1,1566.7 1438.4,1564.4 C1446.7,1562.1 1454.9,1561.3 1463.2,1560.7 C1471.5,1560.1 1479.7,1559.9 1488.0,1560.7 C1496.3,1561.5 1504.5,1563.5 1512.8,1565.6 C1521.1,1567.6 1529.3,1572.6 1537.6,1573.0 C1545.9,1573.4 1556.2,1570.5 1562.4,1568.0 C1568.6,1565.5 1570.7,1562.3 1574.8,1558.2 C1578.9,1554.1 1583.1,1548.5 1587.2,1543.3 C1591.3,1538.1 1595.5,1532.8 1599.6,1527.0 C1603.7,1521.2 1607.9,1514.9 1612.0,1508.6 C1616.1,1502.3 1619.9,1495.6 1624.0,1489.0 C1628.1,1482.4 1632.2,1475.8 1636.8,1468.9 C1641.4,1462.0 1647.1,1453.6 1651.6,1447.6 C1656.1,1441.6 1659.9,1437.2 1664.0,1432.7 C1668.1,1428.2 1672.3,1424.4 1676.4,1420.3 C1680.5,1416.2 1684.7,1411.7 1688.8,1408.0 C1692.9,1404.3 1697.1,1400.9 1701.2,1398.0 C1705.3,1395.1 1709.5,1392.9 1713.6,1390.6 C1717.7,1388.3 1719.8,1386.5 1726.0,1384.4 C1732.2,1382.3 1740.5,1380.1 1750.8,1378.2 C1761.1,1376.3 1775.6,1374.9 1788.0,1373.2 C1800.4,1371.5 1812.8,1370.2 1825.2,1368.3 C1837.6,1366.4 1850.0,1364.5 1862.4,1362.0 C1874.8,1359.5 1888.4,1356.9 1899.6,1353.4 C1910.8,1349.9 1924.4,1343.1 1929.4,1341.0" fill="none" stroke="#00cccc" stroke-width="5" stroke-linejoin="round" stroke-linecap="round" opacity="0.88"/>
<path d="M1305.7,1642.5 C1306.3,1637.9 1308.0,1624.9 1309.4,1615.0 C1310.9,1605.1 1311.5,1593.3 1314.4,1583.0 C1317.3,1572.7 1322.7,1561.7 1326.8,1553.0 C1330.9,1544.3 1335.1,1537.1 1339.2,1530.9 C1343.3,1524.7 1347.5,1520.2 1351.6,1516.0 C1355.7,1511.8 1357.8,1511.2 1364.0,1506.0 C1370.2,1500.8 1380.5,1491.8 1388.8,1485.0 C1397.1,1478.2 1405.3,1471.6 1413.6,1465.2 C1421.9,1458.8 1430.1,1452.8 1438.4,1446.6 C1446.7,1440.4 1454.9,1433.8 1463.2,1428.0 C1471.5,1422.2 1479.7,1417.2 1488.0,1411.8 C1496.3,1406.4 1504.5,1401.3 1512.8,1395.7 C1521.1,1390.1 1528.9,1384.5 1537.6,1378.4 C1546.3,1372.3 1556.1,1365.7 1564.8,1359.0 C1573.5,1352.3 1581.3,1347.7 1589.6,1338.5 C1597.9,1329.3 1608.2,1312.9 1614.4,1303.8 C1620.6,1294.7 1622.7,1290.1 1626.8,1283.9 C1630.9,1277.7 1635.1,1272.4 1639.2,1266.6 C1643.3,1260.8 1647.5,1255.0 1651.6,1249.2 C1655.7,1243.4 1659.9,1237.2 1664.0,1231.8 C1668.1,1226.4 1672.3,1221.1 1676.4,1217.0 C1680.5,1212.9 1684.2,1209.5 1688.8,1207.0 C1693.3,1204.5 1698.7,1202.2 1703.7,1202.0 C1708.7,1201.8 1713.6,1202.5 1718.6,1205.8 C1723.6,1209.1 1728.1,1216.0 1733.5,1222.0 C1738.9,1228.0 1745.8,1236.4 1750.8,1241.8 C1755.8,1247.2 1759.1,1250.7 1763.2,1254.2 C1767.3,1257.7 1769.4,1259.9 1775.6,1262.8 C1781.8,1265.7 1792.1,1269.2 1800.4,1271.5 C1808.7,1273.8 1816.9,1275.2 1825.2,1276.5 C1833.5,1277.8 1832.6,1278.5 1850.0,1279.0 C1867.4,1279.5 1916.2,1279.4 1929.4,1279.5" fill="none" stroke="#00cccc" stroke-width="5" stroke-linejoin="round" stroke-linecap="round" opacity="0.88"/>
<line x1="1929.4" y1="1279.5" x2="1929.4" y2="1341.0" stroke="#00cccc" stroke-width="5" stroke-linecap="butt" opacity="0.35"/>
<line x1="1347.0" y1="1026.0" x2="1347.0" y2="1254.0" stroke="#bdbdbd" stroke-width="9" stroke-linecap="butt"/>
<line x1="1343.0" y1="1250.0" x2="1624.0" y2="1250.0" stroke="#b5b5b5" stroke-width="9" stroke-linecap="butt"/>
<line x1="1622.0" y1="1250.0" x2="1622.0" y2="1260.0" stroke="#999" stroke-width="4" stroke-linecap="butt"/>
<path d="M1363.5,1126.0 L1426.8,1121.0 L1475.4,1116.0 L1516.3,1112.6 L1554.0,1107.0 L1587.0,1104.6" fill="none" stroke="#666" stroke-width="5" stroke-linejoin="round" stroke-linecap="round"/>
<path d="M1363.5,1170.3 L1426.8,1179.0 L1475.4,1186.0 L1516.3,1194.4 L1554.0,1199.4 L1587.0,1203.0" fill="none" stroke="#666" stroke-width="5" stroke-linejoin="round" stroke-linecap="round"/>
<rect x="1356.0" y="1118.5" width="15.0" height="15.0" fill="#f00000" rx="3"/>
<rect x="1359.5" y="1122.0" width="8.0" height="8.0" fill="#900000" opacity="0.5" rx="2"/>
<rect x="1419.3" y="1113.5" width="15.0" height="15.0" fill="#f00000" rx="3"/>
<rect x="1422.8" y="1117.0" width="8.0" height="8.0" fill="#900000" opacity="0.5" rx="2"/>
<rect x="1467.9" y="1108.5" width="15.0" height="15.0" fill="#f00000" rx="3"/>
<rect x="1471.4" y="1112.0" width="8.0" height="8.0" fill="#900000" opacity="0.5" rx="2"/>
<rect x="1508.8" y="1105.1" width="15.0" height="15.0" fill="#f00000" rx="3"/>
<rect x="1512.3" y="1108.6" width="8.0" height="8.0" fill="#900000" opacity="0.5" rx="2"/>
<rect x="1546.5" y="1099.5" width="15.0" height="15.0" fill="#f00000" rx="3"/>
<rect x="1550.0" y="1103.0" width="8.0" height="8.0" fill="#900000" opacity="0.5" rx="2"/>
<rect x="1579.5" y="1097.1" width="15.0" height="15.0" fill="#f00000" rx="3"/>
<rect x="1583.0" y="1100.6" width="8.0" height="8.0" fill="#900000" opacity="0.5" rx="2"/>
<rect x="1356.0" y="1162.8" width="15.0" height="15.0" fill="#0000f0" rx="3"/>
<rect x="1419.3" y="1171.5" width="15.0" height="15.0" fill="#0000f0" rx="3"/>
<rect x="1467.9" y="1178.5" width="15.0" height="15.0" fill="#0000f0" rx="3"/>
<rect x="1508.8" y="1186.9" width="15.0" height="15.0" fill="#0000f0" rx="3"/>
<rect x="1546.5" y="1191.9" width="15.0" height="15.0" fill="#0000f0" rx="3"/>
<rect x="1579.5" y="1195.5" width="15.0" height="15.0" fill="#0000f0" rx="3"/>
<text x="1340.0" y="1073.2" font-size="29" text-anchor="end" fill="#3a3a3a" stroke="#3a3a3a" stroke-width="0.87" stroke-linejoin="round">100</text>
<line x1="1347.0" y1="1062.8" x2="1353.0" y2="1062.8" stroke="#888" stroke-width="4" stroke-linecap="butt" opacity="0.7"/>
<text x="1340.0" y="1147.8" font-size="29" text-anchor="end" fill="#3a3a3a" stroke="#3a3a3a" stroke-width="0.87" stroke-linejoin="round">0</text>
<line x1="1347.0" y1="1137.4" x2="1353.0" y2="1137.4" stroke="#888" stroke-width="4" stroke-linecap="butt" opacity="0.7"/>
<text x="1340.0" y="1223.7" font-size="29" text-anchor="end" fill="#3a3a3a" stroke="#3a3a3a" stroke-width="0.87" stroke-linejoin="round">-100</text>
<line x1="1347.0" y1="1213.3" x2="1353.0" y2="1213.3" stroke="#888" stroke-width="4" stroke-linecap="butt" opacity="0.7"/>
<text x="1347.0" y="1279.0" font-size="29" text-anchor="middle" fill="#555" stroke="#555" stroke-width="0.87" stroke-linejoin="round">2</text>
<text x="1483.0" y="1279.0" font-size="29" text-anchor="middle" fill="#555" stroke="#555" stroke-width="0.87" stroke-linejoin="round">4</text>
<text x="1622.0" y="1279.0" font-size="29" text-anchor="middle" fill="#555" stroke="#555" stroke-width="0.87" stroke-linejoin="round">6</text>
<text x="1268.0" y="1139.0" font-size="30" text-anchor="middle" fill="#222" font-weight="bold" transform="rotate(-90 1268.0 1139.0)" stroke="#222" stroke-width="0.3" stroke-linejoin="round">Peak current (μA)</text>
<text x="1483.0" y="1314.0" font-size="32" text-anchor="middle" fill="#333" font-weight="bold" stroke="#333" stroke-width="0.32" stroke-linejoin="round">υ<tspan dy="-14.1" font-size="21.1">1/2</tspan><tspan dy="14.1" font-size="32"> (mV</tspan><tspan dy="-14.1" font-size="21.1">1/2</tspan><tspan dy="14.1" font-size="32"> s</tspan><tspan dy="-14.1" font-size="21.1">-1/2</tspan><tspan dy="14.1" font-size="32">)</tspan></text>
<text x="1652.0" y="1068.0" font-size="44" text-anchor="start" fill="#333" stroke="#333" stroke-width="1.32" stroke-linejoin="round">[Ru(NH<tspan dy="8.8" font-size="26.4">3</tspan><tspan dy="-8.8" font-size="44">)</tspan><tspan dy="8.8" font-size="26.4">6</tspan><tspan dy="-8.8" font-size="44">]</tspan><tspan dy="-18.5" font-size="28.2">2+/3+</tspan></text>
<line x1="1746.5" y1="1395.0" x2="1828.5" y2="1395.0" stroke="#000000" stroke-width="5.5" stroke-linecap="butt" opacity="0.95"/>
<text x="1840.0" y="1408.0" font-size="36" text-anchor="start" fill="#222" stroke="#222" stroke-width="1.08" stroke-linejoin="round">5 mV s<tspan dy="-16.6" font-size="25.2">-1</tspan></text>
<line x1="1746.5" y1="1443.0" x2="1828.5" y2="1443.0" stroke="#ff0000" stroke-width="5.5" stroke-linecap="butt" opacity="0.95"/>
<text x="1840.0" y="1456.0" font-size="36" text-anchor="start" fill="#222" stroke="#222" stroke-width="1.08" stroke-linejoin="round">10 mV s<tspan dy="-16.6" font-size="25.2">-1</tspan></text>
<line x1="1746.5" y1="1492.4" x2="1828.5" y2="1492.4" stroke="#0000ff" stroke-width="5.5" stroke-linecap="butt" opacity="0.95"/>
<text x="1840.0" y="1505.4" font-size="36" text-anchor="start" fill="#222" stroke="#222" stroke-width="1.08" stroke-linejoin="round">15 mV s<tspan dy="-16.6" font-size="25.2">-1</tspan></text>
<line x1="1746.5" y1="1544.5" x2="1828.5" y2="1544.5" stroke="#8000ff" stroke-width="9" stroke-linecap="butt" opacity="0.55"/>
<text x="1840.0" y="1556.0" font-size="36" text-anchor="start" fill="#222" stroke="#222" stroke-width="1.08" stroke-linejoin="round">20 mV s<tspan dy="-16.6" font-size="25.2">-1</tspan></text>
<line x1="1746.5" y1="1594.3" x2="1828.5" y2="1594.3" stroke="#008000" stroke-width="9" stroke-linecap="butt" opacity="0.5"/>
<text x="1840.0" y="1605.8" font-size="36" text-anchor="start" fill="#222" stroke="#222" stroke-width="1.08" stroke-linejoin="round">25 mV s<tspan dy="-16.6" font-size="25.2">-1</tspan></text>
<line x1="1746.5" y1="1643.9" x2="1828.5" y2="1643.9" stroke="#00cccc" stroke-width="9" stroke-linecap="butt" opacity="0.5"/>
<text x="1840.0" y="1655.4" font-size="36" text-anchor="start" fill="#222" stroke="#222" stroke-width="1.08" stroke-linejoin="round">30 mV s<tspan dy="-16.6" font-size="25.2">-1</tspan></text>
<line x1="2010.5" y1="998.0" x2="2010.5" y2="1703.0" stroke="#555" stroke-width="5" stroke-linecap="butt"/>
<line x1="1227.0" y1="998.0" x2="1227.0" y2="1703.0" stroke="#8c8c8c" stroke-width="10" stroke-linecap="butt"/>
<line x1="1224.0" y1="1001.0" x2="2011.0" y2="1001.0" stroke="#2a2a2a" stroke-width="5" stroke-linecap="butt"/>
<line x1="2005.5" y1="998.0" x2="2005.5" y2="1703.0" stroke="#9a9a9a" stroke-width="6" stroke-linecap="butt"/>
<line x1="1224.0" y1="1700.0" x2="2011.0" y2="1700.0" stroke="#0a0a0a" stroke-width="5.5" stroke-linecap="butt"/>
<line x1="1306.0" y1="1700.0" x2="1306.0" y2="1689.0" stroke="#111" stroke-width="4.5" stroke-linecap="butt" opacity="0.68"/>
<line x1="1306.0" y1="1001.0" x2="1306.0" y2="1012.0" stroke="#111" stroke-width="4.5" stroke-linecap="butt" opacity="0.68"/>
<line x1="1461.8" y1="1700.0" x2="1461.8" y2="1689.0" stroke="#111" stroke-width="4.5" stroke-linecap="butt" opacity="0.68"/>
<line x1="1461.8" y1="1001.0" x2="1461.8" y2="1012.0" stroke="#111" stroke-width="4.5" stroke-linecap="butt" opacity="0.68"/>
<line x1="1617.6" y1="1700.0" x2="1617.6" y2="1689.0" stroke="#111" stroke-width="4.5" stroke-linecap="butt" opacity="0.68"/>
<line x1="1617.6" y1="1001.0" x2="1617.6" y2="1012.0" stroke="#111" stroke-width="4.5" stroke-linecap="butt" opacity="0.68"/>
<line x1="1773.4" y1="1700.0" x2="1773.4" y2="1689.0" stroke="#111" stroke-width="4.5" stroke-linecap="butt" opacity="0.68"/>
<line x1="1773.4" y1="1001.0" x2="1773.4" y2="1012.0" stroke="#111" stroke-width="4.5" stroke-linecap="butt" opacity="0.68"/>
<line x1="1929.2" y1="1700.0" x2="1929.2" y2="1689.0" stroke="#111" stroke-width="4.5" stroke-linecap="butt" opacity="0.68"/>
<line x1="1929.2" y1="1001.0" x2="1929.2" y2="1012.0" stroke="#111" stroke-width="4.5" stroke-linecap="butt" opacity="0.68"/>
<line x1="1383.9" y1="1700.0" x2="1383.9" y2="1693.5" stroke="#111" stroke-width="4.5" stroke-linecap="butt" opacity="0.5"/>
<line x1="1383.9" y1="1001.0" x2="1383.9" y2="1007.5" stroke="#111" stroke-width="4.5" stroke-linecap="butt" opacity="0.5"/>
<line x1="1539.7" y1="1700.0" x2="1539.7" y2="1693.5" stroke="#111" stroke-width="4.5" stroke-linecap="butt" opacity="0.5"/>
<line x1="1539.7" y1="1001.0" x2="1539.7" y2="1007.5" stroke="#111" stroke-width="4.5" stroke-linecap="butt" opacity="0.5"/>
<line x1="1695.5" y1="1700.0" x2="1695.5" y2="1693.5" stroke="#111" stroke-width="4.5" stroke-linecap="butt" opacity="0.5"/>
<line x1="1695.5" y1="1001.0" x2="1695.5" y2="1007.5" stroke="#111" stroke-width="4.5" stroke-linecap="butt" opacity="0.5"/>
<line x1="1851.3" y1="1700.0" x2="1851.3" y2="1693.5" stroke="#111" stroke-width="4.5" stroke-linecap="butt" opacity="0.5"/>
<line x1="1851.3" y1="1001.0" x2="1851.3" y2="1007.5" stroke="#111" stroke-width="4.5" stroke-linecap="butt" opacity="0.5"/>
<line x1="1227.0" y1="1611.1" x2="1238.0" y2="1611.1" stroke="#111" stroke-width="4.5" stroke-linecap="butt" opacity="0.55"/>
<line x1="2008.0" y1="1611.1" x2="1997.0" y2="1611.1" stroke="#111" stroke-width="4.5" stroke-linecap="butt" opacity="0.66"/>
<line x1="1227.0" y1="1523.8" x2="1238.0" y2="1523.8" stroke="#111" stroke-width="4.5" stroke-linecap="butt" opacity="0.55"/>
<line x1="2008.0" y1="1523.8" x2="1997.0" y2="1523.8" stroke="#111" stroke-width="4.5" stroke-linecap="butt" opacity="0.66"/>
<line x1="1227.0" y1="1436.4" x2="1238.0" y2="1436.4" stroke="#111" stroke-width="4.5" stroke-linecap="butt" opacity="0.55"/>
<line x1="2008.0" y1="1436.4" x2="1997.0" y2="1436.4" stroke="#111" stroke-width="4.5" stroke-linecap="butt" opacity="0.66"/>
<line x1="1227.0" y1="1349.0" x2="1238.0" y2="1349.0" stroke="#111" stroke-width="4.5" stroke-linecap="butt" opacity="0.55"/>
<line x1="2008.0" y1="1349.0" x2="1997.0" y2="1349.0" stroke="#111" stroke-width="4.5" stroke-linecap="butt" opacity="0.66"/>
<line x1="1227.0" y1="1261.6" x2="1238.0" y2="1261.6" stroke="#111" stroke-width="4.5" stroke-linecap="butt" opacity="0.55"/>
<line x1="2008.0" y1="1261.6" x2="1997.0" y2="1261.6" stroke="#111" stroke-width="4.5" stroke-linecap="butt" opacity="0.66"/>
<line x1="1227.0" y1="1174.2" x2="1238.0" y2="1174.2" stroke="#111" stroke-width="4.5" stroke-linecap="butt" opacity="0.55"/>
<line x1="2008.0" y1="1174.2" x2="1997.0" y2="1174.2" stroke="#111" stroke-width="4.5" stroke-linecap="butt" opacity="0.66"/>
<line x1="1227.0" y1="1086.9" x2="1238.0" y2="1086.9" stroke="#111" stroke-width="4.5" stroke-linecap="butt" opacity="0.55"/>
<line x1="2008.0" y1="1086.9" x2="1997.0" y2="1086.9" stroke="#111" stroke-width="4.5" stroke-linecap="butt" opacity="0.66"/>
<line x1="1227.0" y1="1654.8" x2="1233.0" y2="1654.8" stroke="#111" stroke-width="4.5" stroke-linecap="butt" opacity="0.45"/>
<line x1="2008.0" y1="1654.8" x2="2002.0" y2="1654.8" stroke="#111" stroke-width="4.5" stroke-linecap="butt" opacity="0.54"/>
<line x1="1227.0" y1="1567.4" x2="1233.0" y2="1567.4" stroke="#111" stroke-width="4.5" stroke-linecap="butt" opacity="0.45"/>
<line x1="2008.0" y1="1567.4" x2="2002.0" y2="1567.4" stroke="#111" stroke-width="4.5" stroke-linecap="butt" opacity="0.54"/>
<line x1="1227.0" y1="1480.1" x2="1233.0" y2="1480.1" stroke="#111" stroke-width="4.5" stroke-linecap="butt" opacity="0.45"/>
<line x1="2008.0" y1="1480.1" x2="2002.0" y2="1480.1" stroke="#111" stroke-width="4.5" stroke-linecap="butt" opacity="0.54"/>
<line x1="1227.0" y1="1392.7" x2="1233.0" y2="1392.7" stroke="#111" stroke-width="4.5" stroke-linecap="butt" opacity="0.45"/>
<line x1="2008.0" y1="1392.7" x2="2002.0" y2="1392.7" stroke="#111" stroke-width="4.5" stroke-linecap="butt" opacity="0.54"/>
<line x1="1227.0" y1="1305.3" x2="1233.0" y2="1305.3" stroke="#111" stroke-width="4.5" stroke-linecap="butt" opacity="0.45"/>
<line x1="2008.0" y1="1305.3" x2="2002.0" y2="1305.3" stroke="#111" stroke-width="4.5" stroke-linecap="butt" opacity="0.54"/>
<line x1="1227.0" y1="1217.9" x2="1233.0" y2="1217.9" stroke="#111" stroke-width="4.5" stroke-linecap="butt" opacity="0.45"/>
<line x1="2008.0" y1="1217.9" x2="2002.0" y2="1217.9" stroke="#111" stroke-width="4.5" stroke-linecap="butt" opacity="0.54"/>
<line x1="1227.0" y1="1130.6" x2="1233.0" y2="1130.6" stroke="#111" stroke-width="4.5" stroke-linecap="butt" opacity="0.45"/>
<line x1="2008.0" y1="1130.6" x2="2002.0" y2="1130.6" stroke="#111" stroke-width="4.5" stroke-linecap="butt" opacity="0.54"/>
<line x1="1227.0" y1="1043.2" x2="1233.0" y2="1043.2" stroke="#111" stroke-width="4.5" stroke-linecap="butt" opacity="0.45"/>
<line x1="2008.0" y1="1043.2" x2="2002.0" y2="1043.2" stroke="#111" stroke-width="4.5" stroke-linecap="butt" opacity="0.54"/>
<text x="1304.5" y="1753.5" font-size="52.5" text-anchor="middle" fill="#1a1a1a" letter-spacing="-1" stroke="#1a1a1a" stroke-width="1.575" stroke-linejoin="round">-0.8</text>
<text x="1460.3" y="1753.5" font-size="52.5" text-anchor="middle" fill="#1a1a1a" letter-spacing="-1" stroke="#1a1a1a" stroke-width="1.575" stroke-linejoin="round">-0.6</text>
<text x="1616.1" y="1753.5" font-size="52.5" text-anchor="middle" fill="#1a1a1a" letter-spacing="-1" stroke="#1a1a1a" stroke-width="1.575" stroke-linejoin="round">-0.4</text>
<text x="1771.9" y="1753.5" font-size="52.5" text-anchor="middle" fill="#1a1a1a" letter-spacing="-1" stroke="#1a1a1a" stroke-width="1.575" stroke-linejoin="round">-0.2</text>
<text x="1929.2" y="1753.5" font-size="52.5" text-anchor="middle" fill="#1a1a1a" letter-spacing="-1" stroke="#1a1a1a" stroke-width="1.575" stroke-linejoin="round">0.0</text>
<text x="1213.0" y="1713.8" font-size="52.5" text-anchor="end" fill="#1a1a1a" letter-spacing="-1" stroke="#1a1a1a" stroke-width="1.575" stroke-linejoin="round">-200</text>
<text x="1213.0" y="1626.4" font-size="52.5" text-anchor="end" fill="#1a1a1a" letter-spacing="-1" stroke="#1a1a1a" stroke-width="1.575" stroke-linejoin="round">-150</text>
<text x="1213.0" y="1539.0" font-size="52.5" text-anchor="end" fill="#1a1a1a" letter-spacing="-1" stroke="#1a1a1a" stroke-width="1.575" stroke-linejoin="round">-100</text>
<text x="1213.0" y="1451.7" font-size="52.5" text-anchor="end" fill="#1a1a1a" letter-spacing="-1" stroke="#1a1a1a" stroke-width="1.575" stroke-linejoin="round">-50</text>
<text x="1213.0" y="1364.3" font-size="52.5" text-anchor="end" fill="#1a1a1a" letter-spacing="-1" stroke="#1a1a1a" stroke-width="1.575" stroke-linejoin="round">0</text>
<text x="1213.0" y="1276.9" font-size="52.5" text-anchor="end" fill="#1a1a1a" letter-spacing="-1" stroke="#1a1a1a" stroke-width="1.575" stroke-linejoin="round">50</text>
<text x="1213.0" y="1189.5" font-size="52.5" text-anchor="end" fill="#1a1a1a" letter-spacing="-1" stroke="#1a1a1a" stroke-width="1.575" stroke-linejoin="round">100</text>
<text x="1213.0" y="1102.2" font-size="52.5" text-anchor="end" fill="#1a1a1a" letter-spacing="-1" stroke="#1a1a1a" stroke-width="1.575" stroke-linejoin="round">150</text>
<text x="1213.0" y="1014.8" font-size="52.5" text-anchor="end" fill="#1a1a1a" letter-spacing="-1" stroke="#1a1a1a" stroke-width="1.575" stroke-linejoin="round">200</text>
<text x="1617.0" y="1832.5" font-size="52" text-anchor="middle" fill="#111" font-weight="bold" stroke="#111" stroke-width="0.52" stroke-linejoin="round">E vs. PRE (V)</text>
<text x="1068.0" y="1331.0" font-size="52" text-anchor="middle" fill="#111" font-weight="bold" transform="rotate(-90 1068.0 1331.0)" stroke="#111" stroke-width="0.52" stroke-linejoin="round">Current (μA)</text>
</g>
</svg>
</body>
</html>
